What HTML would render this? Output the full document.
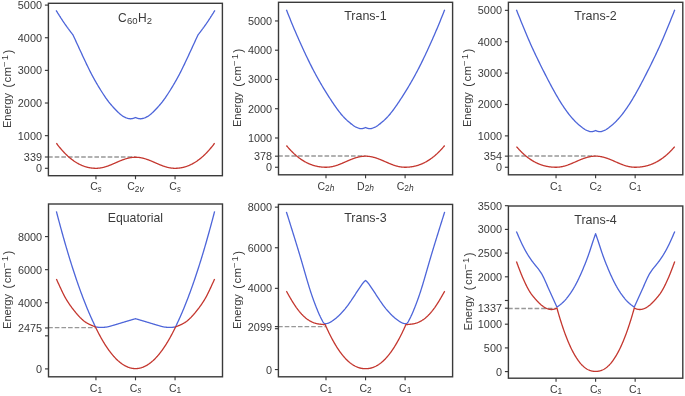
<!DOCTYPE html>
<html><head><meta charset="utf-8"><title>PES</title>
<style>html,body{margin:0;padding:0;background:#fff}svg{display:block}text{font-family:"Liberation Sans",sans-serif;fill:#3a3a3a}</style>
</head><body>
<svg width="685" height="396" viewBox="0 0 685 396">
<rect width="685" height="396" fill="#ffffff"/>
<path d="M48.10,157.00 H135.50" stroke="#989898" stroke-width="1.45" stroke-dasharray="4.6 2.02" fill="none"/>
<path d="M56.10,10.40 L56.24,10.63 L56.38,10.85 L56.53,11.08 L56.67,11.31 L56.81,11.53 L56.95,11.76 L57.09,11.99 L57.24,12.21 L57.38,12.44 L57.52,12.66 L57.66,12.89 L57.80,13.12 L57.95,13.34 L58.09,13.57 L58.23,13.79 L58.37,14.02 L58.51,14.24 L58.66,14.47 L58.80,14.69 L58.94,14.92 L59.08,15.14 L59.22,15.37 L59.37,15.59 L59.51,15.81 L59.65,16.04 L59.79,16.26 L59.93,16.48 L60.08,16.70 L60.22,16.93 L60.36,17.15 L60.50,17.37 L60.64,17.59 L60.79,17.81 L60.93,18.03 L61.07,18.25 L61.21,18.47 L61.35,18.69 L61.50,18.91 L61.64,19.12 L61.78,19.34 L61.92,19.56 L62.06,19.77 L62.21,19.99 L62.35,20.21 L62.49,20.42 L62.63,20.64 L62.77,20.85 L62.92,21.06 L63.06,21.28 L63.20,21.49 L63.34,21.70 L63.48,21.91 L63.63,22.12 L63.77,22.33 L63.91,22.54 L64.05,22.75 L64.19,22.96 L64.34,23.16 L64.48,23.37 L64.62,23.58 L64.76,23.78 L64.91,23.98 L65.05,24.19 L65.19,24.39 L65.33,24.59 L65.47,24.80 L65.62,25.00 L65.76,25.20 L65.90,25.40 L66.04,25.60 L66.18,25.80 L66.33,25.99 L66.47,26.19 L66.61,26.39 L66.75,26.59 L66.89,26.78 L67.04,26.98 L67.18,27.17 L67.32,27.37 L67.46,27.56 L67.60,27.76 L67.75,27.95 L67.89,28.14 L68.03,28.34 L68.17,28.53 L68.31,28.72 L68.46,28.91 L68.60,29.10 L68.74,29.29 L68.88,29.48 L69.02,29.67 L69.17,29.86 L69.31,30.05 L69.45,30.24 L69.59,30.43 L69.73,30.62 L69.88,30.81 L70.02,30.99 L70.16,31.18 L70.30,31.37 L70.44,31.56 L70.59,31.74 L70.73,31.93 L70.87,32.12 L71.01,32.30 L71.15,32.49 L71.30,32.67 L71.44,32.86 L71.58,33.05 L71.72,33.23 L71.86,33.42 L72.01,33.60 L72.15,33.79 L72.29,33.97 L72.43,34.16 L72.57,34.34 L72.72,34.53 L72.86,34.71 L73.00,34.90 L73.48,35.94 L73.96,36.98 L74.44,38.02 L74.92,39.06 L75.39,40.10 L75.87,41.14 L76.35,42.18 L76.83,43.22 L77.31,44.26 L77.79,45.30 L78.27,46.34 L78.75,47.38 L79.23,48.42 L79.71,49.45 L80.18,50.49 L80.66,51.53 L81.14,52.56 L81.62,53.60 L82.10,54.63 L82.58,55.67 L83.06,56.70 L83.54,57.73 L84.02,58.76 L84.50,59.78 L84.97,60.81 L85.45,61.82 L85.93,62.84 L86.41,63.85 L86.89,64.85 L87.37,65.84 L87.85,66.83 L88.33,67.82 L88.81,68.79 L89.29,69.76 L89.76,70.72 L90.24,71.66 L90.72,72.60 L91.20,73.53 L91.68,74.45 L92.16,75.35 L92.64,76.25 L93.12,77.14 L93.60,78.01 L94.08,78.88 L94.55,79.74 L95.03,80.59 L95.51,81.43 L95.99,82.27 L96.47,83.09 L96.95,83.91 L97.43,84.72 L97.91,85.53 L98.39,86.33 L98.87,87.12 L99.34,87.91 L99.82,88.69 L100.30,89.47 L100.78,90.24 L101.26,91.00 L101.74,91.76 L102.22,92.52 L102.70,93.26 L103.18,94.00 L103.66,94.74 L104.13,95.46 L104.61,96.17 L105.09,96.88 L105.57,97.57 L106.05,98.26 L106.53,98.93 L107.01,99.59 L107.49,100.24 L107.97,100.88 L108.45,101.50 L108.92,102.12 L109.40,102.72 L109.88,103.32 L110.36,103.90 L110.84,104.48 L111.32,105.04 L111.80,105.60 L112.28,106.14 L112.76,106.68 L113.24,107.22 L113.71,107.74 L114.19,108.26 L114.67,108.77 L115.15,109.27 L115.63,109.77 L116.11,110.26 L116.59,110.74 L117.07,111.22 L117.55,111.70 L118.03,112.16 L118.50,112.61 L118.98,113.06 L119.46,113.49 L119.94,113.91 L120.42,114.32 L120.90,114.71 L121.38,115.08 L121.86,115.44 L122.34,115.78 L122.82,116.11 L123.29,116.41 L123.77,116.69 L124.25,116.95 L124.73,117.20 L125.21,117.42 L125.69,117.63 L126.17,117.82 L126.65,117.99 L127.13,118.14 L127.61,118.27 L128.08,118.40 L128.56,118.51 L129.04,118.61 L129.52,118.71 L130.00,118.80 L130.05,118.80 L130.09,118.80 L130.14,118.79 L130.18,118.79 L130.23,118.79 L130.28,118.79 L130.32,118.78 L130.37,118.78 L130.42,118.78 L130.46,118.78 L130.51,118.78 L130.55,118.77 L130.60,118.77 L130.65,118.77 L130.69,118.76 L130.74,118.76 L130.79,118.76 L130.83,118.76 L130.88,118.75 L130.92,118.75 L130.97,118.75 L131.02,118.74 L131.06,118.74 L131.11,118.74 L131.16,118.73 L131.20,118.73 L131.25,118.73 L131.29,118.72 L131.34,118.72 L131.39,118.71 L131.43,118.71 L131.48,118.70 L131.53,118.70 L131.57,118.69 L131.62,118.69 L131.66,118.68 L131.71,118.68 L131.76,118.67 L131.80,118.67 L131.85,118.66 L131.89,118.65 L131.94,118.65 L131.99,118.64 L132.03,118.63 L132.08,118.63 L132.13,118.62 L132.17,118.61 L132.22,118.60 L132.26,118.60 L132.31,118.59 L132.36,118.58 L132.40,118.57 L132.45,118.56 L132.50,118.55 L132.54,118.54 L132.59,118.53 L132.63,118.52 L132.68,118.51 L132.73,118.50 L132.77,118.49 L132.82,118.48 L132.87,118.47 L132.91,118.45 L132.96,118.44 L133.00,118.43 L133.05,118.42 L133.10,118.40 L133.14,118.39 L133.19,118.38 L133.24,118.37 L133.28,118.35 L133.33,118.34 L133.37,118.32 L133.42,118.31 L133.47,118.29 L133.51,118.28 L133.56,118.27 L133.61,118.25 L133.65,118.23 L133.70,118.22 L133.74,118.20 L133.79,118.19 L133.84,118.17 L133.88,118.16 L133.93,118.14 L133.97,118.12 L134.02,118.11 L134.07,118.09 L134.11,118.07 L134.16,118.05 L134.21,118.04 L134.25,118.02 L134.30,118.00 L134.34,117.98 L134.39,117.96 L134.44,117.95 L134.48,117.93 L134.53,117.91 L134.58,117.89 L134.62,117.87 L134.67,117.85 L134.71,117.83 L134.76,117.81 L134.81,117.80 L134.85,117.78 L134.90,117.76 L134.95,117.74 L134.99,117.72 L135.04,117.70 L135.08,117.68 L135.13,117.66 L135.18,117.64 L135.22,117.62 L135.27,117.60 L135.32,117.58 L135.36,117.56 L135.41,117.54 L135.45,117.52 L135.50,117.50 L135.55,117.52 L135.59,117.54 L135.64,117.56 L135.68,117.58 L135.73,117.60 L135.78,117.62 L135.82,117.64 L135.87,117.66 L135.92,117.68 L135.96,117.70 L136.01,117.72 L136.05,117.74 L136.10,117.76 L136.15,117.78 L136.19,117.80 L136.24,117.81 L136.29,117.83 L136.33,117.85 L136.38,117.87 L136.42,117.89 L136.47,117.91 L136.52,117.93 L136.56,117.95 L136.61,117.96 L136.66,117.98 L136.70,118.00 L136.75,118.02 L136.79,118.04 L136.84,118.05 L136.89,118.07 L136.93,118.09 L136.98,118.11 L137.03,118.12 L137.07,118.14 L137.12,118.16 L137.16,118.17 L137.21,118.19 L137.26,118.20 L137.30,118.22 L137.35,118.23 L137.39,118.25 L137.44,118.27 L137.49,118.28 L137.53,118.29 L137.58,118.31 L137.63,118.32 L137.67,118.34 L137.72,118.35 L137.76,118.37 L137.81,118.38 L137.86,118.39 L137.90,118.40 L137.95,118.42 L138.00,118.43 L138.04,118.44 L138.09,118.45 L138.13,118.47 L138.18,118.48 L138.23,118.49 L138.27,118.50 L138.32,118.51 L138.37,118.52 L138.41,118.53 L138.46,118.54 L138.50,118.55 L138.55,118.56 L138.60,118.57 L138.64,118.58 L138.69,118.59 L138.74,118.60 L138.78,118.60 L138.83,118.61 L138.87,118.62 L138.92,118.63 L138.97,118.63 L139.01,118.64 L139.06,118.65 L139.11,118.65 L139.15,118.66 L139.20,118.67 L139.24,118.67 L139.29,118.68 L139.34,118.68 L139.38,118.69 L139.43,118.69 L139.47,118.70 L139.52,118.70 L139.57,118.71 L139.61,118.71 L139.66,118.72 L139.71,118.72 L139.75,118.73 L139.80,118.73 L139.84,118.73 L139.89,118.74 L139.94,118.74 L139.98,118.74 L140.03,118.75 L140.08,118.75 L140.12,118.75 L140.17,118.76 L140.21,118.76 L140.26,118.76 L140.31,118.76 L140.35,118.77 L140.40,118.77 L140.45,118.77 L140.49,118.78 L140.54,118.78 L140.58,118.78 L140.63,118.78 L140.68,118.78 L140.72,118.79 L140.77,118.79 L140.82,118.79 L140.86,118.79 L140.91,118.80 L140.95,118.80 L141.00,118.80 L141.48,118.71 L141.96,118.61 L142.44,118.51 L142.92,118.40 L143.39,118.27 L143.87,118.14 L144.35,117.99 L144.83,117.82 L145.31,117.63 L145.79,117.42 L146.27,117.20 L146.75,116.95 L147.23,116.69 L147.71,116.41 L148.18,116.11 L148.66,115.78 L149.14,115.44 L149.62,115.08 L150.10,114.71 L150.58,114.32 L151.06,113.91 L151.54,113.49 L152.02,113.06 L152.50,112.61 L152.97,112.16 L153.45,111.70 L153.93,111.22 L154.41,110.74 L154.89,110.26 L155.37,109.77 L155.85,109.27 L156.33,108.77 L156.81,108.26 L157.29,107.74 L157.76,107.22 L158.24,106.68 L158.72,106.14 L159.20,105.60 L159.68,105.04 L160.16,104.48 L160.64,103.90 L161.12,103.32 L161.60,102.72 L162.08,102.12 L162.55,101.50 L163.03,100.88 L163.51,100.24 L163.99,99.59 L164.47,98.93 L164.95,98.26 L165.43,97.57 L165.91,96.88 L166.39,96.17 L166.87,95.46 L167.34,94.74 L167.82,94.00 L168.30,93.26 L168.78,92.52 L169.26,91.76 L169.74,91.00 L170.22,90.24 L170.70,89.47 L171.18,88.69 L171.66,87.91 L172.13,87.12 L172.61,86.33 L173.09,85.53 L173.57,84.72 L174.05,83.91 L174.53,83.09 L175.01,82.27 L175.49,81.43 L175.97,80.59 L176.45,79.74 L176.92,78.88 L177.40,78.01 L177.88,77.14 L178.36,76.25 L178.84,75.35 L179.32,74.45 L179.80,73.53 L180.28,72.60 L180.76,71.66 L181.24,70.72 L181.71,69.76 L182.19,68.79 L182.67,67.82 L183.15,66.83 L183.63,65.84 L184.11,64.85 L184.59,63.85 L185.07,62.84 L185.55,61.82 L186.03,60.81 L186.50,59.78 L186.98,58.76 L187.46,57.73 L187.94,56.70 L188.42,55.67 L188.90,54.63 L189.38,53.60 L189.86,52.56 L190.34,51.53 L190.82,50.49 L191.29,49.45 L191.77,48.42 L192.25,47.38 L192.73,46.34 L193.21,45.30 L193.69,44.26 L194.17,43.22 L194.65,42.18 L195.13,41.14 L195.61,40.10 L196.08,39.06 L196.56,38.02 L197.04,36.98 L197.52,35.94 L198.00,34.90 L198.14,34.71 L198.28,34.53 L198.43,34.34 L198.57,34.16 L198.71,33.97 L198.85,33.79 L198.99,33.60 L199.14,33.42 L199.28,33.23 L199.42,33.05 L199.56,32.86 L199.70,32.67 L199.85,32.49 L199.99,32.30 L200.13,32.12 L200.27,31.93 L200.41,31.74 L200.56,31.56 L200.70,31.37 L200.84,31.18 L200.98,30.99 L201.12,30.81 L201.27,30.62 L201.41,30.43 L201.55,30.24 L201.69,30.05 L201.83,29.86 L201.98,29.67 L202.12,29.48 L202.26,29.29 L202.40,29.10 L202.54,28.91 L202.69,28.72 L202.83,28.53 L202.97,28.34 L203.11,28.14 L203.25,27.95 L203.40,27.76 L203.54,27.56 L203.68,27.37 L203.82,27.17 L203.96,26.98 L204.11,26.78 L204.25,26.59 L204.39,26.39 L204.53,26.19 L204.67,25.99 L204.82,25.80 L204.96,25.60 L205.10,25.40 L205.24,25.20 L205.38,25.00 L205.53,24.80 L205.67,24.59 L205.81,24.39 L205.95,24.19 L206.09,23.98 L206.24,23.78 L206.38,23.58 L206.52,23.37 L206.66,23.16 L206.81,22.96 L206.95,22.75 L207.09,22.54 L207.23,22.33 L207.37,22.12 L207.52,21.91 L207.66,21.70 L207.80,21.49 L207.94,21.28 L208.08,21.06 L208.23,20.85 L208.37,20.64 L208.51,20.42 L208.65,20.21 L208.79,19.99 L208.94,19.77 L209.08,19.56 L209.22,19.34 L209.36,19.12 L209.50,18.91 L209.65,18.69 L209.79,18.47 L209.93,18.25 L210.07,18.03 L210.21,17.81 L210.36,17.59 L210.50,17.37 L210.64,17.15 L210.78,16.93 L210.92,16.70 L211.07,16.48 L211.21,16.26 L211.35,16.04 L211.49,15.81 L211.63,15.59 L211.78,15.37 L211.92,15.14 L212.06,14.92 L212.20,14.69 L212.34,14.47 L212.49,14.24 L212.63,14.02 L212.77,13.79 L212.91,13.57 L213.05,13.34 L213.20,13.12 L213.34,12.89 L213.48,12.66 L213.62,12.44 L213.76,12.21 L213.91,11.99 L214.05,11.76 L214.19,11.53 L214.33,11.31 L214.47,11.08 L214.62,10.85 L214.76,10.63 L214.90,10.40" fill="none" stroke="#4d65d9" stroke-width="1.3" stroke-linejoin="round" stroke-linecap="butt"/>
<path d="M56.38,143.20 L56.78,143.73 L57.18,144.26 L57.57,144.78 L57.97,145.30 L58.37,145.80 L58.77,146.31 L59.16,146.80 L59.56,147.29 L59.96,147.77 L60.36,148.25 L60.75,148.72 L61.15,149.19 L61.55,149.65 L61.95,150.10 L62.34,150.55 L62.74,150.99 L63.14,151.42 L63.54,151.85 L63.93,152.27 L64.33,152.69 L64.73,153.10 L65.13,153.50 L65.52,153.90 L65.92,154.29 L66.32,154.68 L66.72,155.06 L67.11,155.43 L67.51,155.80 L67.91,156.17 L68.31,156.52 L68.71,156.88 L69.10,157.22 L69.50,157.56 L69.90,157.90 L70.30,158.23 L70.69,158.55 L71.09,158.87 L71.49,159.18 L71.89,159.48 L72.28,159.78 L72.68,160.08 L73.08,160.37 L73.48,160.65 L73.87,160.93 L74.27,161.20 L74.67,161.47 L75.07,161.73 L75.46,161.99 L75.86,162.24 L76.26,162.49 L76.66,162.73 L77.05,162.96 L77.45,163.19 L77.85,163.41 L78.25,163.63 L78.64,163.85 L79.04,164.05 L79.44,164.26 L79.84,164.46 L80.24,164.65 L80.63,164.84 L81.03,165.02 L81.43,165.19 L81.83,165.37 L82.22,165.53 L82.62,165.70 L83.02,165.85 L83.42,166.00 L83.81,166.15 L84.21,166.29 L84.61,166.43 L85.01,166.56 L85.40,166.69 L85.80,166.81 L86.20,166.92 L86.60,167.04 L86.99,167.14 L87.39,167.25 L87.79,167.34 L88.19,167.43 L88.58,167.52 L88.98,167.61 L89.38,167.68 L89.78,167.76 L90.17,167.82 L90.57,167.89 L90.97,167.95 L91.37,168.00 L91.77,168.05 L92.16,168.10 L92.56,168.14 L92.96,168.17 L93.36,168.21 L93.75,168.23 L94.15,168.25 L94.55,168.27 L94.95,168.29 L95.34,168.30 L95.74,168.30 L96.14,168.30 L96.54,168.29 L96.93,168.28 L97.33,168.27 L97.73,168.24 L98.13,168.22 L98.52,168.18 L98.92,168.15 L99.32,168.10 L99.72,168.05 L100.11,168.00 L100.51,167.94 L100.91,167.87 L101.31,167.80 L101.71,167.73 L102.10,167.65 L102.50,167.57 L102.90,167.48 L103.30,167.38 L103.69,167.28 L104.09,167.18 L104.49,167.07 L104.89,166.96 L105.28,166.85 L105.68,166.73 L106.08,166.60 L106.48,166.47 L106.87,166.34 L107.27,166.21 L107.67,166.07 L108.07,165.93 L108.46,165.78 L108.86,165.63 L109.26,165.48 L109.66,165.33 L110.05,165.17 L110.45,165.02 L110.85,164.85 L111.25,164.69 L111.64,164.53 L112.04,164.36 L112.44,164.19 L112.84,164.02 L113.24,163.85 L113.63,163.68 L114.03,163.51 L114.43,163.33 L114.83,163.16 L115.22,162.99 L115.62,162.81 L116.02,162.64 L116.42,162.46 L116.81,162.29 L117.21,162.11 L117.61,161.94 L118.01,161.77 L118.40,161.60 L118.80,161.43 L119.20,161.26 L119.60,161.09 L119.99,160.93 L120.39,160.76 L120.79,160.60 L121.19,160.44 L121.58,160.28 L121.98,160.13 L122.38,159.98 L122.78,159.83 L123.17,159.68 L123.57,159.54 L123.97,159.40 L124.37,159.26 L124.77,159.13 L125.16,159.00 L125.56,158.87 L125.96,158.75 L126.36,158.63 L126.75,158.52 L127.15,158.41 L127.55,158.30 L127.95,158.20 L128.34,158.10 L128.74,158.01 L129.14,157.93 L129.54,157.84 L129.93,157.77 L130.33,157.69 L130.73,157.63 L131.13,157.57 L131.52,157.51 L131.92,157.46 L132.32,157.41 L132.72,157.37 L133.11,157.33 L133.51,157.30 L133.91,157.28 L134.31,157.26 L134.70,157.25 L135.10,157.24 L135.50,157.24 L135.90,157.24 L136.30,157.25 L136.69,157.26 L137.09,157.28 L137.49,157.30 L137.89,157.33 L138.28,157.37 L138.68,157.41 L139.08,157.46 L139.48,157.51 L139.87,157.57 L140.27,157.63 L140.67,157.69 L141.07,157.77 L141.46,157.84 L141.86,157.93 L142.26,158.01 L142.66,158.10 L143.05,158.20 L143.45,158.30 L143.85,158.41 L144.25,158.52 L144.64,158.63 L145.04,158.75 L145.44,158.87 L145.84,159.00 L146.23,159.13 L146.63,159.26 L147.03,159.40 L147.43,159.54 L147.83,159.68 L148.22,159.83 L148.62,159.98 L149.02,160.13 L149.42,160.28 L149.81,160.44 L150.21,160.60 L150.61,160.76 L151.01,160.93 L151.40,161.09 L151.80,161.26 L152.20,161.43 L152.60,161.60 L152.99,161.77 L153.39,161.94 L153.79,162.11 L154.19,162.29 L154.58,162.46 L154.98,162.64 L155.38,162.81 L155.78,162.99 L156.17,163.16 L156.57,163.33 L156.97,163.51 L157.37,163.68 L157.76,163.85 L158.16,164.02 L158.56,164.19 L158.96,164.36 L159.36,164.53 L159.75,164.69 L160.15,164.85 L160.55,165.02 L160.95,165.17 L161.34,165.33 L161.74,165.48 L162.14,165.63 L162.54,165.78 L162.93,165.93 L163.33,166.07 L163.73,166.21 L164.13,166.34 L164.52,166.47 L164.92,166.60 L165.32,166.73 L165.72,166.85 L166.11,166.96 L166.51,167.07 L166.91,167.18 L167.31,167.28 L167.70,167.38 L168.10,167.48 L168.50,167.57 L168.90,167.65 L169.29,167.73 L169.69,167.80 L170.09,167.87 L170.49,167.94 L170.89,168.00 L171.28,168.05 L171.68,168.10 L172.08,168.15 L172.48,168.18 L172.87,168.22 L173.27,168.24 L173.67,168.27 L174.07,168.28 L174.46,168.29 L174.86,168.30 L175.26,168.30 L175.66,168.30 L176.05,168.29 L176.45,168.27 L176.85,168.25 L177.25,168.23 L177.64,168.21 L178.04,168.17 L178.44,168.14 L178.84,168.10 L179.23,168.05 L179.63,168.00 L180.03,167.95 L180.43,167.89 L180.83,167.82 L181.22,167.76 L181.62,167.68 L182.02,167.61 L182.42,167.52 L182.81,167.43 L183.21,167.34 L183.61,167.25 L184.01,167.14 L184.40,167.04 L184.80,166.92 L185.20,166.81 L185.60,166.69 L185.99,166.56 L186.39,166.43 L186.79,166.29 L187.19,166.15 L187.58,166.00 L187.98,165.85 L188.38,165.70 L188.78,165.53 L189.17,165.37 L189.57,165.19 L189.97,165.02 L190.37,164.84 L190.76,164.65 L191.16,164.46 L191.56,164.26 L191.96,164.05 L192.36,163.85 L192.75,163.63 L193.15,163.41 L193.55,163.19 L193.95,162.96 L194.34,162.73 L194.74,162.49 L195.14,162.24 L195.54,161.99 L195.93,161.73 L196.33,161.47 L196.73,161.20 L197.13,160.93 L197.52,160.65 L197.92,160.37 L198.32,160.08 L198.72,159.78 L199.11,159.48 L199.51,159.18 L199.91,158.87 L200.31,158.55 L200.70,158.23 L201.10,157.90 L201.50,157.56 L201.90,157.22 L202.29,156.88 L202.69,156.52 L203.09,156.17 L203.49,155.80 L203.89,155.43 L204.28,155.06 L204.68,154.68 L205.08,154.29 L205.48,153.90 L205.87,153.50 L206.27,153.10 L206.67,152.69 L207.07,152.27 L207.46,151.85 L207.86,151.42 L208.26,150.99 L208.66,150.55 L209.05,150.10 L209.45,149.65 L209.85,149.19 L210.25,148.72 L210.64,148.25 L211.04,147.77 L211.44,147.29 L211.84,146.80 L212.23,146.31 L212.63,145.80 L213.03,145.30 L213.43,144.78 L213.82,144.26 L214.22,143.73 L214.62,143.20" fill="none" stroke="#c4372f" stroke-width="1.3" stroke-linejoin="round" stroke-linecap="butt"/>
<rect x="48.40" y="3.30" width="174.00" height="172.40" fill="none" stroke="#3a3a3a" stroke-width="1.4"/>
<path d="M44.90,5.10 H48.40" stroke="#3a3a3a" stroke-width="1.15"/>
<path d="M44.90,37.74 H48.40" stroke="#3a3a3a" stroke-width="1.15"/>
<path d="M44.90,70.38 H48.40" stroke="#3a3a3a" stroke-width="1.15"/>
<path d="M44.90,103.02 H48.40" stroke="#3a3a3a" stroke-width="1.15"/>
<path d="M44.90,135.66 H48.40" stroke="#3a3a3a" stroke-width="1.15"/>
<path d="M44.90,157.00 H48.40" stroke="#3a3a3a" stroke-width="1.15"/>
<path d="M44.90,168.30 H48.40" stroke="#3a3a3a" stroke-width="1.15"/>
<path d="M95.94,175.70 V179.20" stroke="#3a3a3a" stroke-width="1.15"/>
<path d="M135.50,175.70 V179.20" stroke="#3a3a3a" stroke-width="1.15"/>
<path d="M175.06,175.70 V179.20" stroke="#3a3a3a" stroke-width="1.15"/>
<path d="M278.20,156.00 H365.55" stroke="#989898" stroke-width="1.45" stroke-dasharray="4.6 2.02" fill="none"/>
<path d="M286.40,9.80 L287.02,11.36 L287.65,12.92 L288.27,14.47 L288.89,16.03 L289.51,17.57 L290.14,19.11 L290.76,20.64 L291.38,22.17 L292.00,23.68 L292.63,25.18 L293.25,26.67 L293.87,28.15 L294.49,29.63 L295.12,31.09 L295.74,32.54 L296.36,33.98 L296.99,35.42 L297.61,36.84 L298.23,38.26 L298.85,39.67 L299.48,41.07 L300.10,42.46 L300.72,43.85 L301.34,45.23 L301.97,46.60 L302.59,47.96 L303.21,49.32 L303.84,50.67 L304.46,52.01 L305.08,53.34 L305.70,54.67 L306.33,55.98 L306.95,57.29 L307.57,58.58 L308.19,59.87 L308.82,61.15 L309.44,62.41 L310.06,63.67 L310.68,64.91 L311.31,66.15 L311.93,67.37 L312.55,68.58 L313.18,69.78 L313.80,70.97 L314.42,72.15 L315.04,73.31 L315.67,74.47 L316.29,75.62 L316.91,76.75 L317.53,77.88 L318.16,78.99 L318.78,80.10 L319.40,81.19 L320.03,82.28 L320.65,83.36 L321.27,84.42 L321.89,85.48 L322.52,86.53 L323.14,87.57 L323.76,88.61 L324.38,89.63 L325.01,90.65 L325.63,91.66 L326.25,92.66 L326.87,93.65 L327.50,94.63 L328.12,95.61 L328.74,96.58 L329.37,97.55 L329.99,98.50 L330.61,99.45 L331.23,100.40 L331.86,101.34 L332.48,102.27 L333.10,103.19 L333.72,104.11 L334.35,105.02 L334.97,105.93 L335.59,106.82 L336.22,107.70 L336.84,108.57 L337.46,109.42 L338.08,110.27 L338.71,111.09 L339.33,111.90 L339.95,112.69 L340.57,113.47 L341.20,114.22 L341.82,114.96 L342.44,115.67 L343.06,116.36 L343.69,117.03 L344.31,117.69 L344.93,118.33 L345.56,118.94 L346.18,119.55 L346.80,120.13 L347.42,120.71 L348.05,121.26 L348.67,121.81 L349.29,122.34 L349.91,122.86 L350.54,123.37 L351.16,123.87 L351.78,124.35 L352.41,124.82 L353.03,125.28 L353.65,125.71 L354.27,126.12 L354.90,126.50 L355.52,126.85 L356.14,127.18 L356.76,127.46 L357.39,127.72 L358.01,127.95 L358.63,128.16 L359.25,128.35 L359.88,128.53 L360.50,128.70 L360.54,128.70 L360.58,128.70 L360.63,128.69 L360.67,128.69 L360.71,128.69 L360.75,128.69 L360.80,128.69 L360.84,128.69 L360.88,128.68 L360.92,128.68 L360.97,128.68 L361.01,128.68 L361.05,128.67 L361.09,128.67 L361.14,128.67 L361.18,128.67 L361.22,128.67 L361.26,128.66 L361.31,128.66 L361.35,128.66 L361.39,128.66 L361.43,128.65 L361.48,128.65 L361.52,128.65 L361.56,128.64 L361.60,128.64 L361.65,128.64 L361.69,128.63 L361.73,128.63 L361.77,128.63 L361.82,128.62 L361.86,128.62 L361.90,128.61 L361.94,128.61 L361.99,128.60 L362.03,128.60 L362.07,128.59 L362.11,128.59 L362.16,128.58 L362.20,128.58 L362.24,128.57 L362.28,128.57 L362.32,128.56 L362.37,128.56 L362.41,128.55 L362.45,128.54 L362.49,128.54 L362.54,128.53 L362.58,128.52 L362.62,128.51 L362.66,128.51 L362.71,128.50 L362.75,128.49 L362.79,128.48 L362.83,128.47 L362.88,128.46 L362.92,128.46 L362.96,128.45 L363.00,128.44 L363.05,128.43 L363.09,128.42 L363.13,128.41 L363.17,128.40 L363.22,128.39 L363.26,128.37 L363.30,128.36 L363.34,128.35 L363.39,128.34 L363.43,128.33 L363.47,128.32 L363.51,128.30 L363.56,128.29 L363.60,128.28 L363.64,128.27 L363.68,128.25 L363.73,128.24 L363.77,128.23 L363.81,128.21 L363.85,128.20 L363.89,128.18 L363.94,128.17 L363.98,128.16 L364.02,128.14 L364.06,128.13 L364.11,128.11 L364.15,128.10 L364.19,128.08 L364.23,128.06 L364.28,128.05 L364.32,128.03 L364.36,128.01 L364.40,128.00 L364.45,127.98 L364.49,127.96 L364.53,127.95 L364.57,127.93 L364.62,127.91 L364.66,127.89 L364.70,127.88 L364.74,127.86 L364.79,127.84 L364.83,127.82 L364.87,127.80 L364.91,127.79 L364.96,127.77 L365.00,127.75 L365.04,127.73 L365.08,127.71 L365.13,127.69 L365.17,127.67 L365.21,127.65 L365.25,127.63 L365.30,127.62 L365.34,127.60 L365.38,127.58 L365.42,127.56 L365.47,127.54 L365.51,127.52 L365.55,127.50 L365.59,127.52 L365.63,127.54 L365.68,127.56 L365.72,127.58 L365.76,127.60 L365.80,127.62 L365.85,127.63 L365.89,127.65 L365.93,127.67 L365.97,127.69 L366.02,127.71 L366.06,127.73 L366.10,127.75 L366.14,127.77 L366.19,127.79 L366.23,127.80 L366.27,127.82 L366.31,127.84 L366.36,127.86 L366.40,127.88 L366.44,127.89 L366.48,127.91 L366.53,127.93 L366.57,127.95 L366.61,127.96 L366.65,127.98 L366.70,128.00 L366.74,128.01 L366.78,128.03 L366.82,128.05 L366.87,128.06 L366.91,128.08 L366.95,128.10 L366.99,128.11 L367.04,128.13 L367.08,128.14 L367.12,128.16 L367.16,128.17 L367.21,128.18 L367.25,128.20 L367.29,128.21 L367.33,128.23 L367.37,128.24 L367.42,128.25 L367.46,128.27 L367.50,128.28 L367.54,128.29 L367.59,128.30 L367.63,128.32 L367.67,128.33 L367.71,128.34 L367.76,128.35 L367.80,128.36 L367.84,128.37 L367.88,128.39 L367.93,128.40 L367.97,128.41 L368.01,128.42 L368.05,128.43 L368.10,128.44 L368.14,128.45 L368.18,128.46 L368.22,128.46 L368.27,128.47 L368.31,128.48 L368.35,128.49 L368.39,128.50 L368.44,128.51 L368.48,128.51 L368.52,128.52 L368.56,128.53 L368.61,128.54 L368.65,128.54 L368.69,128.55 L368.73,128.56 L368.78,128.56 L368.82,128.57 L368.86,128.57 L368.90,128.58 L368.94,128.58 L368.99,128.59 L369.03,128.59 L369.07,128.60 L369.11,128.60 L369.16,128.61 L369.20,128.61 L369.24,128.62 L369.28,128.62 L369.33,128.63 L369.37,128.63 L369.41,128.63 L369.45,128.64 L369.50,128.64 L369.54,128.64 L369.58,128.65 L369.62,128.65 L369.67,128.65 L369.71,128.66 L369.75,128.66 L369.79,128.66 L369.84,128.66 L369.88,128.67 L369.92,128.67 L369.96,128.67 L370.01,128.67 L370.05,128.67 L370.09,128.68 L370.13,128.68 L370.18,128.68 L370.22,128.68 L370.26,128.69 L370.30,128.69 L370.35,128.69 L370.39,128.69 L370.43,128.69 L370.47,128.69 L370.52,128.70 L370.56,128.70 L370.60,128.70 L371.22,128.53 L371.85,128.35 L372.47,128.16 L373.09,127.95 L373.71,127.72 L374.34,127.46 L374.96,127.18 L375.58,126.85 L376.20,126.50 L376.83,126.12 L377.45,125.71 L378.07,125.28 L378.69,124.82 L379.32,124.35 L379.94,123.87 L380.56,123.37 L381.19,122.86 L381.81,122.34 L382.43,121.81 L383.05,121.26 L383.68,120.71 L384.30,120.13 L384.92,119.55 L385.54,118.94 L386.17,118.33 L386.79,117.69 L387.41,117.03 L388.04,116.36 L388.66,115.67 L389.28,114.96 L389.90,114.22 L390.53,113.47 L391.15,112.69 L391.77,111.90 L392.39,111.09 L393.02,110.27 L393.64,109.42 L394.26,108.57 L394.88,107.70 L395.51,106.82 L396.13,105.93 L396.75,105.02 L397.38,104.11 L398.00,103.19 L398.62,102.27 L399.24,101.34 L399.87,100.40 L400.49,99.45 L401.11,98.50 L401.73,97.55 L402.36,96.58 L402.98,95.61 L403.60,94.63 L404.23,93.65 L404.85,92.66 L405.47,91.66 L406.09,90.65 L406.72,89.63 L407.34,88.61 L407.96,87.57 L408.58,86.53 L409.21,85.48 L409.83,84.42 L410.45,83.36 L411.07,82.28 L411.70,81.19 L412.32,80.10 L412.94,78.99 L413.57,77.88 L414.19,76.75 L414.81,75.62 L415.43,74.47 L416.06,73.31 L416.68,72.15 L417.30,70.97 L417.92,69.78 L418.55,68.58 L419.17,67.37 L419.79,66.15 L420.42,64.91 L421.04,63.67 L421.66,62.41 L422.28,61.15 L422.91,59.87 L423.53,58.58 L424.15,57.29 L424.77,55.98 L425.40,54.67 L426.02,53.34 L426.64,52.01 L427.26,50.67 L427.89,49.32 L428.51,47.96 L429.13,46.60 L429.76,45.23 L430.38,43.85 L431.00,42.46 L431.62,41.07 L432.25,39.67 L432.87,38.26 L433.49,36.84 L434.11,35.42 L434.74,33.98 L435.36,32.54 L435.98,31.09 L436.61,29.63 L437.23,28.15 L437.85,26.67 L438.47,25.18 L439.10,23.68 L439.72,22.17 L440.34,20.64 L440.96,19.11 L441.59,17.57 L442.21,16.03 L442.83,14.47 L443.45,12.92 L444.08,11.36 L444.70,9.80" fill="none" stroke="#4d65d9" stroke-width="1.3" stroke-linejoin="round" stroke-linecap="butt"/>
<path d="M286.43,145.51 L286.83,145.99 L287.23,146.47 L287.62,146.94 L288.02,147.40 L288.42,147.86 L288.82,148.31 L289.21,148.75 L289.61,149.19 L290.01,149.62 L290.41,150.05 L290.80,150.47 L291.20,150.88 L291.60,151.29 L292.00,151.69 L292.39,152.09 L292.79,152.48 L293.19,152.86 L293.59,153.24 L293.98,153.62 L294.38,153.98 L294.78,154.34 L295.18,154.70 L295.57,155.05 L295.97,155.40 L296.37,155.73 L296.77,156.07 L297.16,156.39 L297.56,156.72 L297.96,157.03 L298.36,157.34 L298.76,157.65 L299.15,157.95 L299.55,158.25 L299.95,158.54 L300.35,158.82 L300.74,159.10 L301.14,159.37 L301.54,159.64 L301.94,159.90 L302.33,160.16 L302.73,160.41 L303.13,160.66 L303.53,160.90 L303.92,161.14 L304.32,161.37 L304.72,161.60 L305.12,161.82 L305.51,162.04 L305.91,162.25 L306.31,162.46 L306.71,162.67 L307.10,162.86 L307.50,163.06 L307.90,163.25 L308.30,163.43 L308.69,163.61 L309.09,163.78 L309.49,163.95 L309.89,164.12 L310.29,164.28 L310.68,164.43 L311.08,164.58 L311.48,164.73 L311.88,164.87 L312.27,165.01 L312.67,165.14 L313.07,165.27 L313.47,165.40 L313.86,165.52 L314.26,165.63 L314.66,165.75 L315.06,165.85 L315.45,165.96 L315.85,166.06 L316.25,166.15 L316.65,166.24 L317.04,166.33 L317.44,166.41 L317.84,166.49 L318.24,166.56 L318.63,166.63 L319.03,166.70 L319.43,166.76 L319.83,166.82 L320.22,166.87 L320.62,166.93 L321.02,166.97 L321.42,167.02 L321.82,167.06 L322.21,167.09 L322.61,167.12 L323.01,167.15 L323.41,167.18 L323.80,167.20 L324.20,167.21 L324.60,167.23 L325.00,167.24 L325.39,167.25 L325.79,167.25 L326.19,167.25 L326.59,167.24 L326.98,167.23 L327.38,167.22 L327.78,167.19 L328.18,167.17 L328.57,167.13 L328.97,167.10 L329.37,167.05 L329.77,167.00 L330.16,166.95 L330.56,166.89 L330.96,166.82 L331.36,166.76 L331.76,166.68 L332.15,166.60 L332.55,166.52 L332.95,166.43 L333.35,166.33 L333.74,166.23 L334.14,166.13 L334.54,166.02 L334.94,165.91 L335.33,165.80 L335.73,165.68 L336.13,165.55 L336.53,165.42 L336.92,165.29 L337.32,165.16 L337.72,165.02 L338.12,164.88 L338.51,164.73 L338.91,164.59 L339.31,164.43 L339.71,164.28 L340.10,164.12 L340.50,163.97 L340.90,163.81 L341.30,163.64 L341.69,163.48 L342.09,163.31 L342.49,163.14 L342.89,162.97 L343.29,162.80 L343.68,162.63 L344.08,162.46 L344.48,162.29 L344.88,162.11 L345.27,161.94 L345.67,161.76 L346.07,161.59 L346.47,161.41 L346.86,161.24 L347.26,161.07 L347.66,160.89 L348.06,160.72 L348.45,160.55 L348.85,160.38 L349.25,160.21 L349.65,160.04 L350.04,159.88 L350.44,159.71 L350.84,159.55 L351.24,159.39 L351.63,159.24 L352.03,159.08 L352.43,158.93 L352.83,158.78 L353.22,158.63 L353.62,158.49 L354.02,158.35 L354.42,158.21 L354.82,158.08 L355.21,157.95 L355.61,157.82 L356.01,157.70 L356.41,157.58 L356.80,157.47 L357.20,157.36 L357.60,157.26 L358.00,157.16 L358.39,157.06 L358.79,156.97 L359.19,156.88 L359.59,156.80 L359.98,156.72 L360.38,156.65 L360.78,156.58 L361.18,156.52 L361.57,156.46 L361.97,156.41 L362.37,156.37 L362.77,156.32 L363.16,156.29 L363.56,156.26 L363.96,156.23 L364.36,156.21 L364.75,156.20 L365.15,156.19 L365.55,156.19 L365.95,156.19 L366.35,156.20 L366.74,156.21 L367.14,156.23 L367.54,156.26 L367.94,156.29 L368.33,156.32 L368.73,156.37 L369.13,156.41 L369.53,156.46 L369.92,156.52 L370.32,156.58 L370.72,156.65 L371.12,156.72 L371.51,156.80 L371.91,156.88 L372.31,156.97 L372.71,157.06 L373.10,157.16 L373.50,157.26 L373.90,157.36 L374.30,157.47 L374.69,157.58 L375.09,157.70 L375.49,157.82 L375.89,157.95 L376.28,158.08 L376.68,158.21 L377.08,158.35 L377.48,158.49 L377.88,158.63 L378.27,158.78 L378.67,158.93 L379.07,159.08 L379.47,159.24 L379.86,159.39 L380.26,159.55 L380.66,159.71 L381.06,159.88 L381.45,160.04 L381.85,160.21 L382.25,160.38 L382.65,160.55 L383.04,160.72 L383.44,160.89 L383.84,161.07 L384.24,161.24 L384.63,161.41 L385.03,161.59 L385.43,161.76 L385.83,161.94 L386.22,162.11 L386.62,162.29 L387.02,162.46 L387.42,162.63 L387.81,162.80 L388.21,162.97 L388.61,163.14 L389.01,163.31 L389.41,163.48 L389.80,163.64 L390.20,163.81 L390.60,163.97 L391.00,164.12 L391.39,164.28 L391.79,164.43 L392.19,164.59 L392.59,164.73 L392.98,164.88 L393.38,165.02 L393.78,165.16 L394.18,165.29 L394.57,165.42 L394.97,165.55 L395.37,165.68 L395.77,165.80 L396.16,165.91 L396.56,166.02 L396.96,166.13 L397.36,166.23 L397.75,166.33 L398.15,166.43 L398.55,166.52 L398.95,166.60 L399.34,166.68 L399.74,166.76 L400.14,166.82 L400.54,166.89 L400.94,166.95 L401.33,167.00 L401.73,167.05 L402.13,167.10 L402.53,167.13 L402.92,167.17 L403.32,167.19 L403.72,167.22 L404.12,167.23 L404.51,167.24 L404.91,167.25 L405.31,167.25 L405.71,167.25 L406.10,167.24 L406.50,167.23 L406.90,167.21 L407.30,167.20 L407.69,167.18 L408.09,167.15 L408.49,167.12 L408.89,167.09 L409.28,167.06 L409.68,167.02 L410.08,166.97 L410.48,166.93 L410.88,166.87 L411.27,166.82 L411.67,166.76 L412.07,166.70 L412.47,166.63 L412.86,166.56 L413.26,166.49 L413.66,166.41 L414.06,166.33 L414.45,166.24 L414.85,166.15 L415.25,166.06 L415.65,165.96 L416.04,165.85 L416.44,165.75 L416.84,165.63 L417.24,165.52 L417.63,165.40 L418.03,165.27 L418.43,165.14 L418.83,165.01 L419.22,164.87 L419.62,164.73 L420.02,164.58 L420.42,164.43 L420.81,164.28 L421.21,164.12 L421.61,163.95 L422.01,163.78 L422.41,163.61 L422.80,163.43 L423.20,163.25 L423.60,163.06 L424.00,162.86 L424.39,162.67 L424.79,162.46 L425.19,162.25 L425.59,162.04 L425.98,161.82 L426.38,161.60 L426.78,161.37 L427.18,161.14 L427.57,160.90 L427.97,160.66 L428.37,160.41 L428.77,160.16 L429.16,159.90 L429.56,159.64 L429.96,159.37 L430.36,159.10 L430.75,158.82 L431.15,158.54 L431.55,158.25 L431.95,157.95 L432.34,157.65 L432.74,157.34 L433.14,157.03 L433.54,156.72 L433.94,156.39 L434.33,156.07 L434.73,155.73 L435.13,155.40 L435.53,155.05 L435.92,154.70 L436.32,154.34 L436.72,153.98 L437.12,153.62 L437.51,153.24 L437.91,152.86 L438.31,152.48 L438.71,152.09 L439.10,151.69 L439.50,151.29 L439.90,150.88 L440.30,150.47 L440.69,150.05 L441.09,149.62 L441.49,149.19 L441.89,148.75 L442.28,148.31 L442.68,147.86 L443.08,147.40 L443.48,146.94 L443.87,146.47 L444.27,145.99 L444.67,145.51" fill="none" stroke="#c4372f" stroke-width="1.3" stroke-linejoin="round" stroke-linecap="butt"/>
<rect x="278.50" y="2.30" width="174.10" height="172.50" fill="none" stroke="#3a3a3a" stroke-width="1.4"/>
<path d="M275.00,20.95 H278.50" stroke="#3a3a3a" stroke-width="1.15"/>
<path d="M275.00,50.21 H278.50" stroke="#3a3a3a" stroke-width="1.15"/>
<path d="M275.00,79.47 H278.50" stroke="#3a3a3a" stroke-width="1.15"/>
<path d="M275.00,108.73 H278.50" stroke="#3a3a3a" stroke-width="1.15"/>
<path d="M275.00,137.99 H278.50" stroke="#3a3a3a" stroke-width="1.15"/>
<path d="M275.00,156.19 H278.50" stroke="#3a3a3a" stroke-width="1.15"/>
<path d="M275.00,167.25 H278.50" stroke="#3a3a3a" stroke-width="1.15"/>
<path d="M325.99,174.80 V178.30" stroke="#3a3a3a" stroke-width="1.15"/>
<path d="M365.55,174.80 V178.30" stroke="#3a3a3a" stroke-width="1.15"/>
<path d="M405.11,174.80 V178.30" stroke="#3a3a3a" stroke-width="1.15"/>
<path d="M508.10,156.00 H595.60" stroke="#989898" stroke-width="1.45" stroke-dasharray="4.6 2.02" fill="none"/>
<path d="M516.40,9.80 L517.02,11.35 L517.65,12.90 L518.27,14.46 L518.89,16.01 L519.52,17.55 L520.14,19.10 L520.76,20.64 L521.39,22.18 L522.01,23.71 L522.64,25.24 L523.26,26.77 L523.88,28.28 L524.51,29.80 L525.13,31.30 L525.75,32.79 L526.38,34.28 L527.00,35.76 L527.62,37.23 L528.25,38.68 L528.87,40.13 L529.49,41.56 L530.12,42.98 L530.74,44.39 L531.36,45.79 L531.99,47.17 L532.61,48.53 L533.24,49.89 L533.86,51.23 L534.48,52.57 L535.11,53.89 L535.73,55.20 L536.35,56.51 L536.98,57.80 L537.60,59.09 L538.22,60.37 L538.85,61.64 L539.47,62.91 L540.09,64.17 L540.72,65.43 L541.34,66.68 L541.96,67.93 L542.59,69.17 L543.21,70.42 L543.84,71.65 L544.46,72.89 L545.08,74.12 L545.71,75.34 L546.33,76.56 L546.95,77.77 L547.58,78.98 L548.20,80.18 L548.82,81.38 L549.45,82.57 L550.07,83.75 L550.69,84.92 L551.32,86.08 L551.94,87.24 L552.56,88.39 L553.19,89.52 L553.81,90.65 L554.44,91.77 L555.06,92.88 L555.68,93.98 L556.31,95.06 L556.93,96.14 L557.55,97.20 L558.18,98.26 L558.80,99.30 L559.42,100.32 L560.05,101.34 L560.67,102.34 L561.29,103.33 L561.92,104.30 L562.54,105.26 L563.16,106.21 L563.79,107.14 L564.41,108.06 L565.04,108.96 L565.66,109.85 L566.28,110.72 L566.91,111.57 L567.53,112.41 L568.15,113.24 L568.78,114.05 L569.40,114.84 L570.02,115.61 L570.65,116.37 L571.27,117.11 L571.89,117.84 L572.52,118.55 L573.14,119.24 L573.76,119.91 L574.39,120.57 L575.01,121.22 L575.64,121.84 L576.26,122.46 L576.88,123.05 L577.51,123.64 L578.13,124.20 L578.75,124.76 L579.38,125.30 L580.00,125.82 L580.62,126.34 L581.25,126.84 L581.87,127.32 L582.49,127.79 L583.12,128.24 L583.74,128.67 L584.36,129.07 L584.99,129.45 L585.61,129.80 L586.24,130.12 L586.86,130.41 L587.48,130.67 L588.11,130.90 L588.73,131.12 L589.35,131.32 L589.98,131.51 L590.60,131.70 L590.64,131.70 L590.68,131.70 L590.73,131.69 L590.77,131.69 L590.81,131.69 L590.85,131.69 L590.89,131.69 L590.94,131.68 L590.98,131.68 L591.02,131.68 L591.06,131.68 L591.10,131.68 L591.15,131.67 L591.19,131.67 L591.23,131.67 L591.27,131.67 L591.31,131.66 L591.36,131.66 L591.40,131.66 L591.44,131.66 L591.48,131.65 L591.52,131.65 L591.57,131.65 L591.61,131.65 L591.65,131.64 L591.69,131.64 L591.73,131.64 L591.78,131.63 L591.82,131.63 L591.86,131.62 L591.90,131.62 L591.94,131.62 L591.99,131.61 L592.03,131.61 L592.07,131.60 L592.11,131.60 L592.15,131.59 L592.20,131.59 L592.24,131.59 L592.28,131.58 L592.32,131.57 L592.36,131.57 L592.41,131.56 L592.45,131.56 L592.49,131.55 L592.53,131.54 L592.57,131.54 L592.62,131.53 L592.66,131.52 L592.70,131.52 L592.74,131.51 L592.78,131.50 L592.83,131.49 L592.87,131.49 L592.91,131.48 L592.95,131.47 L592.99,131.46 L593.04,131.45 L593.08,131.44 L593.12,131.43 L593.16,131.42 L593.21,131.41 L593.25,131.40 L593.29,131.39 L593.33,131.38 L593.37,131.37 L593.42,131.36 L593.46,131.35 L593.50,131.34 L593.54,131.33 L593.58,131.32 L593.63,131.30 L593.67,131.29 L593.71,131.28 L593.75,131.27 L593.79,131.25 L593.84,131.24 L593.88,131.23 L593.92,131.21 L593.96,131.20 L594.00,131.19 L594.05,131.17 L594.09,131.16 L594.13,131.14 L594.17,131.13 L594.21,131.11 L594.26,131.10 L594.30,131.08 L594.34,131.06 L594.38,131.05 L594.42,131.03 L594.47,131.01 L594.51,131.00 L594.55,130.98 L594.59,130.96 L594.63,130.94 L594.68,130.93 L594.72,130.91 L594.76,130.89 L594.80,130.87 L594.84,130.85 L594.89,130.83 L594.93,130.82 L594.97,130.80 L595.01,130.78 L595.05,130.76 L595.10,130.74 L595.14,130.72 L595.18,130.70 L595.22,130.68 L595.26,130.66 L595.31,130.64 L595.35,130.62 L595.39,130.60 L595.43,130.58 L595.47,130.56 L595.52,130.54 L595.56,130.52 L595.60,130.50 L595.64,130.52 L595.68,130.54 L595.73,130.56 L595.77,130.58 L595.81,130.60 L595.85,130.62 L595.89,130.64 L595.94,130.66 L595.98,130.68 L596.02,130.70 L596.06,130.72 L596.10,130.74 L596.15,130.76 L596.19,130.78 L596.23,130.80 L596.27,130.82 L596.31,130.83 L596.36,130.85 L596.40,130.87 L596.44,130.89 L596.48,130.91 L596.52,130.93 L596.57,130.94 L596.61,130.96 L596.65,130.98 L596.69,131.00 L596.73,131.01 L596.78,131.03 L596.82,131.05 L596.86,131.06 L596.90,131.08 L596.94,131.10 L596.99,131.11 L597.03,131.13 L597.07,131.14 L597.11,131.16 L597.15,131.17 L597.20,131.19 L597.24,131.20 L597.28,131.21 L597.32,131.23 L597.36,131.24 L597.41,131.25 L597.45,131.27 L597.49,131.28 L597.53,131.29 L597.57,131.30 L597.62,131.32 L597.66,131.33 L597.70,131.34 L597.74,131.35 L597.78,131.36 L597.83,131.37 L597.87,131.38 L597.91,131.39 L597.95,131.40 L597.99,131.41 L598.04,131.42 L598.08,131.43 L598.12,131.44 L598.16,131.45 L598.21,131.46 L598.25,131.47 L598.29,131.48 L598.33,131.49 L598.37,131.49 L598.42,131.50 L598.46,131.51 L598.50,131.52 L598.54,131.52 L598.58,131.53 L598.63,131.54 L598.67,131.54 L598.71,131.55 L598.75,131.56 L598.79,131.56 L598.84,131.57 L598.88,131.57 L598.92,131.58 L598.96,131.59 L599.00,131.59 L599.05,131.59 L599.09,131.60 L599.13,131.60 L599.17,131.61 L599.21,131.61 L599.26,131.62 L599.30,131.62 L599.34,131.62 L599.38,131.63 L599.42,131.63 L599.47,131.64 L599.51,131.64 L599.55,131.64 L599.59,131.65 L599.63,131.65 L599.68,131.65 L599.72,131.65 L599.76,131.66 L599.80,131.66 L599.84,131.66 L599.89,131.66 L599.93,131.67 L599.97,131.67 L600.01,131.67 L600.05,131.67 L600.10,131.68 L600.14,131.68 L600.18,131.68 L600.22,131.68 L600.26,131.68 L600.31,131.69 L600.35,131.69 L600.39,131.69 L600.43,131.69 L600.47,131.69 L600.52,131.70 L600.56,131.70 L600.60,131.70 L601.22,131.51 L601.85,131.32 L602.47,131.12 L603.09,130.90 L603.72,130.67 L604.34,130.41 L604.96,130.12 L605.59,129.80 L606.21,129.45 L606.84,129.07 L607.46,128.67 L608.08,128.24 L608.71,127.79 L609.33,127.32 L609.95,126.84 L610.58,126.34 L611.20,125.82 L611.82,125.30 L612.45,124.76 L613.07,124.20 L613.69,123.64 L614.32,123.05 L614.94,122.46 L615.56,121.84 L616.19,121.22 L616.81,120.57 L617.44,119.91 L618.06,119.24 L618.68,118.55 L619.31,117.84 L619.93,117.11 L620.55,116.37 L621.18,115.61 L621.80,114.84 L622.42,114.05 L623.05,113.24 L623.67,112.41 L624.29,111.57 L624.92,110.72 L625.54,109.85 L626.16,108.96 L626.79,108.06 L627.41,107.14 L628.04,106.21 L628.66,105.26 L629.28,104.30 L629.91,103.33 L630.53,102.34 L631.15,101.34 L631.78,100.32 L632.40,99.30 L633.02,98.26 L633.65,97.20 L634.27,96.14 L634.89,95.06 L635.52,93.98 L636.14,92.88 L636.76,91.77 L637.39,90.65 L638.01,89.52 L638.64,88.39 L639.26,87.24 L639.88,86.08 L640.51,84.92 L641.13,83.75 L641.75,82.57 L642.38,81.38 L643.00,80.18 L643.62,78.98 L644.25,77.77 L644.87,76.56 L645.49,75.34 L646.12,74.12 L646.74,72.89 L647.36,71.65 L647.99,70.42 L648.61,69.17 L649.24,67.93 L649.86,66.68 L650.48,65.43 L651.11,64.17 L651.73,62.91 L652.35,61.64 L652.98,60.37 L653.60,59.09 L654.22,57.80 L654.85,56.51 L655.47,55.20 L656.09,53.89 L656.72,52.57 L657.34,51.23 L657.96,49.89 L658.59,48.53 L659.21,47.17 L659.84,45.79 L660.46,44.39 L661.08,42.98 L661.71,41.56 L662.33,40.13 L662.95,38.68 L663.58,37.23 L664.20,35.76 L664.82,34.28 L665.45,32.79 L666.07,31.30 L666.69,29.80 L667.32,28.28 L667.94,26.77 L668.56,25.24 L669.19,23.71 L669.81,22.18 L670.44,20.64 L671.06,19.10 L671.68,17.55 L672.31,16.01 L672.93,14.46 L673.55,12.90 L674.18,11.35 L674.80,9.80" fill="none" stroke="#4d65d9" stroke-width="1.3" stroke-linejoin="round" stroke-linecap="butt"/>
<path d="M516.48,146.60 L516.88,147.07 L517.28,147.53 L517.67,147.98 L518.07,148.43 L518.47,148.87 L518.87,149.31 L519.26,149.74 L519.66,150.16 L520.06,150.57 L520.46,150.99 L520.85,151.39 L521.25,151.79 L521.65,152.18 L522.05,152.57 L522.44,152.95 L522.84,153.32 L523.24,153.69 L523.64,154.06 L524.03,154.41 L524.43,154.77 L524.83,155.11 L525.23,155.45 L525.62,155.79 L526.02,156.12 L526.42,156.44 L526.82,156.76 L527.21,157.07 L527.61,157.38 L528.01,157.68 L528.41,157.97 L528.81,158.27 L529.20,158.55 L529.60,158.83 L530.00,159.11 L530.40,159.38 L530.79,159.64 L531.19,159.90 L531.59,160.15 L531.99,160.40 L532.38,160.65 L532.78,160.89 L533.18,161.12 L533.58,161.35 L533.97,161.57 L534.37,161.79 L534.77,162.01 L535.17,162.22 L535.56,162.42 L535.96,162.62 L536.36,162.81 L536.76,163.01 L537.15,163.19 L537.55,163.37 L537.95,163.55 L538.35,163.72 L538.74,163.89 L539.14,164.05 L539.54,164.21 L539.94,164.36 L540.34,164.51 L540.73,164.66 L541.13,164.80 L541.53,164.93 L541.93,165.07 L542.32,165.19 L542.72,165.32 L543.12,165.44 L543.52,165.55 L543.91,165.66 L544.31,165.77 L544.71,165.87 L545.11,165.97 L545.50,166.07 L545.90,166.16 L546.30,166.25 L546.70,166.33 L547.09,166.41 L547.49,166.48 L547.89,166.56 L548.29,166.62 L548.68,166.69 L549.08,166.75 L549.48,166.81 L549.88,166.86 L550.27,166.91 L550.67,166.96 L551.07,167.00 L551.47,167.04 L551.87,167.07 L552.26,167.11 L552.66,167.14 L553.06,167.16 L553.46,167.18 L553.85,167.20 L554.25,167.22 L554.65,167.23 L555.05,167.24 L555.44,167.25 L555.84,167.25 L556.24,167.25 L556.64,167.24 L557.03,167.23 L557.43,167.22 L557.83,167.19 L558.23,167.17 L558.62,167.13 L559.02,167.09 L559.42,167.05 L559.82,167.00 L560.21,166.95 L560.61,166.89 L561.01,166.82 L561.41,166.75 L561.81,166.68 L562.20,166.60 L562.60,166.51 L563.00,166.42 L563.40,166.33 L563.79,166.23 L564.19,166.13 L564.59,166.02 L564.99,165.91 L565.38,165.79 L565.78,165.67 L566.18,165.54 L566.58,165.42 L566.97,165.28 L567.37,165.15 L567.77,165.01 L568.17,164.87 L568.56,164.72 L568.96,164.57 L569.36,164.42 L569.76,164.27 L570.15,164.11 L570.55,163.95 L570.95,163.79 L571.35,163.63 L571.74,163.46 L572.14,163.29 L572.54,163.13 L572.94,162.96 L573.34,162.78 L573.73,162.61 L574.13,162.44 L574.53,162.26 L574.93,162.09 L575.32,161.91 L575.72,161.74 L576.12,161.56 L576.52,161.39 L576.91,161.21 L577.31,161.04 L577.71,160.87 L578.11,160.69 L578.50,160.52 L578.90,160.35 L579.30,160.18 L579.70,160.01 L580.09,159.85 L580.49,159.68 L580.89,159.52 L581.29,159.36 L581.68,159.20 L582.08,159.05 L582.48,158.89 L582.88,158.74 L583.27,158.60 L583.67,158.45 L584.07,158.31 L584.47,158.17 L584.87,158.04 L585.26,157.91 L585.66,157.78 L586.06,157.66 L586.46,157.54 L586.85,157.43 L587.25,157.32 L587.65,157.21 L588.05,157.11 L588.44,157.01 L588.84,156.92 L589.24,156.84 L589.64,156.75 L590.03,156.68 L590.43,156.60 L590.83,156.54 L591.23,156.47 L591.62,156.42 L592.02,156.36 L592.42,156.32 L592.82,156.28 L593.21,156.24 L593.61,156.21 L594.01,156.19 L594.41,156.17 L594.80,156.15 L595.20,156.14 L595.60,156.14 L596.00,156.14 L596.40,156.15 L596.79,156.17 L597.19,156.19 L597.59,156.21 L597.99,156.24 L598.38,156.28 L598.78,156.32 L599.18,156.36 L599.58,156.42 L599.97,156.47 L600.37,156.54 L600.77,156.60 L601.17,156.68 L601.56,156.75 L601.96,156.84 L602.36,156.92 L602.76,157.01 L603.15,157.11 L603.55,157.21 L603.95,157.32 L604.35,157.43 L604.74,157.54 L605.14,157.66 L605.54,157.78 L605.94,157.91 L606.33,158.04 L606.73,158.17 L607.13,158.31 L607.53,158.45 L607.93,158.60 L608.32,158.74 L608.72,158.89 L609.12,159.05 L609.52,159.20 L609.91,159.36 L610.31,159.52 L610.71,159.68 L611.11,159.85 L611.50,160.01 L611.90,160.18 L612.30,160.35 L612.70,160.52 L613.09,160.69 L613.49,160.87 L613.89,161.04 L614.29,161.21 L614.68,161.39 L615.08,161.56 L615.48,161.74 L615.88,161.91 L616.27,162.09 L616.67,162.26 L617.07,162.44 L617.47,162.61 L617.86,162.78 L618.26,162.96 L618.66,163.13 L619.06,163.29 L619.46,163.46 L619.85,163.63 L620.25,163.79 L620.65,163.95 L621.05,164.11 L621.44,164.27 L621.84,164.42 L622.24,164.57 L622.64,164.72 L623.03,164.87 L623.43,165.01 L623.83,165.15 L624.23,165.28 L624.62,165.42 L625.02,165.54 L625.42,165.67 L625.82,165.79 L626.21,165.91 L626.61,166.02 L627.01,166.13 L627.41,166.23 L627.80,166.33 L628.20,166.42 L628.60,166.51 L629.00,166.60 L629.39,166.68 L629.79,166.75 L630.19,166.82 L630.59,166.89 L630.99,166.95 L631.38,167.00 L631.78,167.05 L632.18,167.09 L632.58,167.13 L632.97,167.17 L633.37,167.19 L633.77,167.22 L634.17,167.23 L634.56,167.24 L634.96,167.25 L635.36,167.25 L635.76,167.25 L636.15,167.24 L636.55,167.23 L636.95,167.22 L637.35,167.20 L637.74,167.18 L638.14,167.16 L638.54,167.14 L638.94,167.11 L639.33,167.07 L639.73,167.04 L640.13,167.00 L640.53,166.96 L640.93,166.91 L641.32,166.86 L641.72,166.81 L642.12,166.75 L642.52,166.69 L642.91,166.62 L643.31,166.56 L643.71,166.48 L644.11,166.41 L644.50,166.33 L644.90,166.25 L645.30,166.16 L645.70,166.07 L646.09,165.97 L646.49,165.87 L646.89,165.77 L647.29,165.66 L647.68,165.55 L648.08,165.44 L648.48,165.32 L648.88,165.19 L649.27,165.07 L649.67,164.93 L650.07,164.80 L650.47,164.66 L650.86,164.51 L651.26,164.36 L651.66,164.21 L652.06,164.05 L652.46,163.89 L652.85,163.72 L653.25,163.55 L653.65,163.37 L654.05,163.19 L654.44,163.01 L654.84,162.81 L655.24,162.62 L655.64,162.42 L656.03,162.22 L656.43,162.01 L656.83,161.79 L657.23,161.57 L657.62,161.35 L658.02,161.12 L658.42,160.89 L658.82,160.65 L659.21,160.40 L659.61,160.15 L660.01,159.90 L660.41,159.64 L660.80,159.38 L661.20,159.11 L661.60,158.83 L662.00,158.55 L662.39,158.27 L662.79,157.97 L663.19,157.68 L663.59,157.38 L663.99,157.07 L664.38,156.76 L664.78,156.44 L665.18,156.12 L665.58,155.79 L665.97,155.45 L666.37,155.11 L666.77,154.77 L667.17,154.41 L667.56,154.06 L667.96,153.69 L668.36,153.32 L668.76,152.95 L669.15,152.57 L669.55,152.18 L669.95,151.79 L670.35,151.39 L670.74,150.99 L671.14,150.57 L671.54,150.16 L671.94,149.74 L672.33,149.31 L672.73,148.87 L673.13,148.43 L673.53,147.98 L673.92,147.53 L674.32,147.07 L674.72,146.60" fill="none" stroke="#c4372f" stroke-width="1.3" stroke-linejoin="round" stroke-linecap="butt"/>
<rect x="508.40" y="2.30" width="174.40" height="172.50" fill="none" stroke="#3a3a3a" stroke-width="1.4"/>
<path d="M504.90,10.35 H508.40" stroke="#3a3a3a" stroke-width="1.15"/>
<path d="M504.90,41.73 H508.40" stroke="#3a3a3a" stroke-width="1.15"/>
<path d="M504.90,73.11 H508.40" stroke="#3a3a3a" stroke-width="1.15"/>
<path d="M504.90,104.49 H508.40" stroke="#3a3a3a" stroke-width="1.15"/>
<path d="M504.90,135.87 H508.40" stroke="#3a3a3a" stroke-width="1.15"/>
<path d="M504.90,156.14 H508.40" stroke="#3a3a3a" stroke-width="1.15"/>
<path d="M504.90,167.25 H508.40" stroke="#3a3a3a" stroke-width="1.15"/>
<path d="M556.04,174.80 V178.30" stroke="#3a3a3a" stroke-width="1.15"/>
<path d="M595.60,174.80 V178.30" stroke="#3a3a3a" stroke-width="1.15"/>
<path d="M635.16,174.80 V178.30" stroke="#3a3a3a" stroke-width="1.15"/>
<path d="M48.20,327.60 H95.94" stroke="#989898" stroke-width="1.45" stroke-dasharray="4.6 2.02" fill="none"/>
<path d="M56.40,211.43 L56.89,213.33 L57.39,215.22 L57.88,217.10 L58.37,218.97 L58.87,220.83 L59.36,222.68 L59.86,224.51 L60.35,226.34 L60.84,228.15 L61.34,229.95 L61.83,231.74 L62.32,233.52 L62.82,235.29 L63.31,237.05 L63.81,238.79 L64.30,240.52 L64.79,242.25 L65.29,243.96 L65.78,245.66 L66.27,247.35 L66.77,249.02 L67.26,250.69 L67.75,252.34 L68.25,253.99 L68.74,255.62 L69.24,257.24 L69.73,258.85 L70.22,260.44 L70.72,262.03 L71.21,263.60 L71.70,265.17 L72.20,266.72 L72.69,268.26 L73.18,269.79 L73.68,271.31 L74.17,272.81 L74.67,274.31 L75.16,275.79 L75.65,277.26 L76.15,278.72 L76.64,280.17 L77.13,281.61 L77.63,283.04 L78.12,284.45 L78.62,285.85 L79.11,287.25 L79.60,288.63 L80.10,289.99 L80.59,291.35 L81.08,292.70 L81.58,294.03 L82.07,295.35 L82.56,296.67 L83.06,297.97 L83.55,299.25 L84.05,300.53 L84.54,301.80 L85.03,303.05 L85.53,304.29 L86.02,305.52 L86.51,306.74 L87.01,307.95 L87.50,309.14 L87.99,310.33 L88.49,311.50 L88.98,312.66 L89.48,313.81 L89.97,314.95 L90.46,316.07 L90.96,317.19 L91.45,318.29 L91.94,319.38 L92.44,320.46 L92.93,321.53 L93.43,322.59 L93.92,323.63 L94.41,324.67 L94.91,325.69 L95.40,326.70 L95.74,326.95 L96.07,327.00 L96.41,327.05 L96.75,327.10 L97.08,327.15 L97.42,327.19 L97.76,327.23 L98.10,327.27 L98.43,327.31 L98.77,327.34 L99.11,327.37 L99.44,327.39 L99.78,327.41 L100.12,327.43 L100.45,327.44 L100.79,327.45 L101.13,327.45 L101.47,327.45 L101.80,327.44 L102.14,327.43 L102.48,327.42 L102.81,327.40 L103.15,327.38 L103.49,327.36 L103.82,327.33 L104.16,327.30 L104.50,327.27 L104.84,327.24 L105.17,327.21 L105.51,327.17 L105.85,327.13 L106.18,327.08 L106.52,327.03 L106.86,326.98 L107.19,326.92 L107.53,326.85 L107.87,326.78 L108.21,326.71 L108.54,326.63 L108.88,326.54 L109.22,326.45 L109.55,326.36 L109.89,326.27 L110.23,326.18 L110.56,326.08 L110.90,325.99 L111.24,325.89 L111.57,325.79 L111.91,325.70 L112.25,325.60 L112.59,325.50 L112.92,325.40 L113.26,325.31 L113.60,325.21 L113.93,325.11 L114.27,325.01 L114.61,324.91 L114.94,324.81 L115.28,324.71 L115.62,324.61 L115.96,324.51 L116.29,324.41 L116.63,324.31 L116.97,324.21 L117.30,324.11 L117.64,324.01 L117.98,323.91 L118.31,323.81 L118.65,323.70 L118.99,323.60 L119.33,323.50 L119.66,323.40 L120.00,323.30 L120.34,323.20 L120.67,323.10 L121.01,323.00 L121.35,322.89 L121.68,322.79 L122.02,322.69 L122.36,322.59 L122.69,322.49 L123.03,322.39 L123.37,322.29 L123.71,322.19 L124.04,322.08 L124.38,321.98 L124.72,321.88 L125.05,321.78 L125.39,321.68 L125.73,321.58 L126.06,321.48 L126.40,321.38 L126.74,321.28 L127.08,321.18 L127.41,321.08 L127.75,320.98 L128.09,320.88 L128.42,320.78 L128.76,320.68 L129.10,320.58 L129.43,320.48 L129.77,320.38 L130.11,320.28 L130.45,320.18 L130.78,320.08 L131.12,319.99 L131.46,319.89 L131.79,319.79 L132.13,319.69 L132.47,319.59 L132.80,319.49 L133.14,319.39 L133.48,319.29 L133.82,319.19 L134.15,319.10 L134.49,319.00 L134.83,318.90 L135.16,318.80 L135.50,318.70 L135.84,318.80 L136.17,318.90 L136.51,319.00 L136.85,319.10 L137.18,319.19 L137.52,319.29 L137.86,319.39 L138.20,319.49 L138.53,319.59 L138.87,319.69 L139.21,319.79 L139.54,319.89 L139.88,319.99 L140.22,320.08 L140.55,320.18 L140.89,320.28 L141.23,320.38 L141.57,320.48 L141.90,320.58 L142.24,320.68 L142.58,320.78 L142.91,320.88 L143.25,320.98 L143.59,321.08 L143.92,321.18 L144.26,321.28 L144.60,321.38 L144.94,321.48 L145.27,321.58 L145.61,321.68 L145.95,321.78 L146.28,321.88 L146.62,321.98 L146.96,322.08 L147.29,322.19 L147.63,322.29 L147.97,322.39 L148.31,322.49 L148.64,322.59 L148.98,322.69 L149.32,322.79 L149.65,322.89 L149.99,323.00 L150.33,323.10 L150.66,323.20 L151.00,323.30 L151.34,323.40 L151.67,323.50 L152.01,323.60 L152.35,323.70 L152.69,323.81 L153.02,323.91 L153.36,324.01 L153.70,324.11 L154.03,324.21 L154.37,324.31 L154.71,324.41 L155.04,324.51 L155.38,324.61 L155.72,324.71 L156.06,324.81 L156.39,324.91 L156.73,325.01 L157.07,325.11 L157.40,325.21 L157.74,325.31 L158.08,325.40 L158.41,325.50 L158.75,325.60 L159.09,325.70 L159.43,325.79 L159.76,325.89 L160.10,325.99 L160.44,326.08 L160.77,326.18 L161.11,326.27 L161.45,326.36 L161.78,326.45 L162.12,326.54 L162.46,326.63 L162.79,326.71 L163.13,326.78 L163.47,326.85 L163.81,326.92 L164.14,326.98 L164.48,327.03 L164.82,327.08 L165.15,327.13 L165.49,327.17 L165.83,327.21 L166.16,327.24 L166.50,327.27 L166.84,327.30 L167.18,327.33 L167.51,327.36 L167.85,327.38 L168.19,327.40 L168.52,327.42 L168.86,327.43 L169.20,327.44 L169.53,327.45 L169.87,327.45 L170.21,327.45 L170.55,327.44 L170.88,327.43 L171.22,327.41 L171.56,327.39 L171.89,327.37 L172.23,327.34 L172.57,327.31 L172.90,327.27 L173.24,327.23 L173.58,327.19 L173.92,327.15 L174.25,327.10 L174.59,327.05 L174.93,327.00 L175.26,326.95 L175.60,326.70 L176.09,325.69 L176.59,324.67 L177.08,323.63 L177.57,322.59 L178.07,321.53 L178.56,320.46 L179.06,319.38 L179.55,318.29 L180.04,317.19 L180.54,316.07 L181.03,314.95 L181.52,313.81 L182.02,312.66 L182.51,311.50 L183.01,310.33 L183.50,309.14 L183.99,307.95 L184.49,306.74 L184.98,305.52 L185.47,304.29 L185.97,303.05 L186.46,301.80 L186.95,300.53 L187.45,299.25 L187.94,297.97 L188.44,296.67 L188.93,295.35 L189.42,294.03 L189.92,292.70 L190.41,291.35 L190.90,289.99 L191.40,288.63 L191.89,287.25 L192.38,285.85 L192.88,284.45 L193.37,283.04 L193.87,281.61 L194.36,280.17 L194.85,278.72 L195.35,277.26 L195.84,275.79 L196.33,274.31 L196.83,272.81 L197.32,271.31 L197.82,269.79 L198.31,268.26 L198.80,266.72 L199.30,265.17 L199.79,263.60 L200.28,262.03 L200.78,260.44 L201.27,258.85 L201.76,257.24 L202.26,255.62 L202.75,253.99 L203.25,252.34 L203.74,250.69 L204.23,249.02 L204.73,247.35 L205.22,245.66 L205.71,243.96 L206.21,242.25 L206.70,240.52 L207.19,238.79 L207.69,237.05 L208.18,235.29 L208.68,233.52 L209.17,231.74 L209.66,229.95 L210.16,228.15 L210.65,226.34 L211.14,224.51 L211.64,222.68 L212.13,220.83 L212.63,218.97 L213.12,217.10 L213.61,215.22 L214.11,213.33 L214.60,211.43" fill="none" stroke="#4d65d9" stroke-width="1.3" stroke-linejoin="round" stroke-linecap="butt"/>
<path d="M56.40,279.05 L56.73,279.77 L57.06,280.49 L57.38,281.21 L57.71,281.93 L58.04,282.65 L58.37,283.36 L58.69,284.08 L59.02,284.80 L59.35,285.51 L59.68,286.22 L60.01,286.93 L60.33,287.64 L60.66,288.35 L60.99,289.05 L61.32,289.75 L61.64,290.44 L61.97,291.13 L62.30,291.82 L62.63,292.49 L62.95,293.16 L63.28,293.82 L63.61,294.48 L63.94,295.12 L64.27,295.75 L64.59,296.36 L64.92,296.97 L65.25,297.56 L65.58,298.14 L65.90,298.71 L66.23,299.27 L66.56,299.82 L66.89,300.36 L67.22,300.90 L67.54,301.42 L67.87,301.93 L68.20,302.43 L68.53,302.93 L68.85,303.42 L69.18,303.90 L69.51,304.38 L69.84,304.85 L70.16,305.31 L70.49,305.77 L70.82,306.22 L71.15,306.67 L71.48,307.11 L71.80,307.55 L72.13,307.98 L72.46,308.41 L72.79,308.84 L73.11,309.27 L73.44,309.69 L73.77,310.11 L74.10,310.53 L74.43,310.94 L74.75,311.35 L75.08,311.76 L75.41,312.16 L75.74,312.56 L76.06,312.96 L76.39,313.35 L76.72,313.74 L77.05,314.12 L77.37,314.50 L77.70,314.87 L78.03,315.24 L78.36,315.61 L78.69,315.97 L79.01,316.32 L79.34,316.67 L79.67,317.02 L80.00,317.35 L80.32,317.69 L80.65,318.01 L80.98,318.34 L81.31,318.65 L81.64,318.96 L81.96,319.27 L82.29,319.56 L82.62,319.85 L82.95,320.14 L83.27,320.41 L83.60,320.68 L83.93,320.95 L84.26,321.20 L84.58,321.45 L84.91,321.69 L85.24,321.93 L85.57,322.15 L85.90,322.37 L86.22,322.59 L86.55,322.79 L86.88,322.99 L87.21,323.18 L87.53,323.37 L87.86,323.55 L88.19,323.73 L88.52,323.90 L88.85,324.07 L89.17,324.23 L89.50,324.39 L89.83,324.55 L90.16,324.70 L90.48,324.85 L90.81,325.00 L91.14,325.14 L91.47,325.29 L91.79,325.43 L92.12,325.57 L92.45,325.70 L92.78,325.84 L93.11,325.97 L93.43,326.11 L93.76,326.24 L94.09,326.37 L94.42,326.51 L94.74,326.64 L95.07,326.77 L95.40,326.90 L95.91,327.95 L96.42,328.98 L96.92,330.01 L97.43,331.02 L97.94,332.01 L98.45,332.99 L98.95,333.96 L99.46,334.92 L99.97,335.86 L100.48,336.79 L100.98,337.70 L101.49,338.61 L102.00,339.49 L102.51,340.37 L103.01,341.23 L103.52,342.08 L104.03,342.92 L104.54,343.74 L105.04,344.55 L105.55,345.34 L106.06,346.12 L106.57,346.89 L107.07,347.65 L107.58,348.39 L108.09,349.12 L108.60,349.83 L109.11,350.53 L109.61,351.22 L110.12,351.90 L110.63,352.56 L111.14,353.21 L111.64,353.84 L112.15,354.46 L112.66,355.07 L113.17,355.66 L113.67,356.25 L114.18,356.81 L114.69,357.37 L115.20,357.91 L115.70,358.44 L116.21,358.95 L116.72,359.45 L117.23,359.94 L117.73,360.42 L118.24,360.88 L118.75,361.32 L119.26,361.76 L119.76,362.18 L120.27,362.59 L120.78,362.98 L121.29,363.36 L121.79,363.73 L122.30,364.08 L122.81,364.42 L123.32,364.75 L123.83,365.07 L124.33,365.37 L124.84,365.65 L125.35,365.93 L125.86,366.19 L126.36,366.44 L126.87,366.67 L127.38,366.89 L127.89,367.10 L128.39,367.29 L128.90,367.47 L129.41,367.64 L129.92,367.79 L130.42,367.93 L130.93,368.06 L131.44,368.17 L131.95,368.27 L132.45,368.36 L132.96,368.43 L133.47,368.49 L133.98,368.54 L134.48,368.57 L134.99,368.59 L135.50,368.60 L136.01,368.59 L136.52,368.57 L137.02,368.54 L137.53,368.49 L138.04,368.43 L138.55,368.36 L139.05,368.27 L139.56,368.17 L140.07,368.06 L140.58,367.93 L141.08,367.79 L141.59,367.64 L142.10,367.47 L142.61,367.29 L143.11,367.10 L143.62,366.89 L144.13,366.67 L144.64,366.44 L145.14,366.19 L145.65,365.93 L146.16,365.65 L146.67,365.37 L147.17,365.07 L147.68,364.75 L148.19,364.42 L148.70,364.08 L149.21,363.73 L149.71,363.36 L150.22,362.98 L150.73,362.59 L151.24,362.18 L151.74,361.76 L152.25,361.32 L152.76,360.88 L153.27,360.42 L153.77,359.94 L154.28,359.45 L154.79,358.95 L155.30,358.44 L155.80,357.91 L156.31,357.37 L156.82,356.81 L157.33,356.25 L157.83,355.66 L158.34,355.07 L158.85,354.46 L159.36,353.84 L159.86,353.21 L160.37,352.56 L160.88,351.90 L161.39,351.22 L161.89,350.53 L162.40,349.83 L162.91,349.12 L163.42,348.39 L163.93,347.65 L164.43,346.89 L164.94,346.12 L165.45,345.34 L165.96,344.55 L166.46,343.74 L166.97,342.92 L167.48,342.08 L167.99,341.23 L168.49,340.37 L169.00,339.49 L169.51,338.61 L170.02,337.70 L170.52,336.79 L171.03,335.86 L171.54,334.92 L172.05,333.96 L172.55,332.99 L173.06,332.01 L173.57,331.02 L174.08,330.01 L174.58,328.98 L175.09,327.95 L175.60,326.90 L175.93,326.77 L176.26,326.64 L176.58,326.51 L176.91,326.37 L177.24,326.24 L177.57,326.11 L177.89,325.97 L178.22,325.84 L178.55,325.70 L178.88,325.57 L179.21,325.43 L179.53,325.29 L179.86,325.14 L180.19,325.00 L180.52,324.85 L180.84,324.70 L181.17,324.55 L181.50,324.39 L181.83,324.23 L182.15,324.07 L182.48,323.90 L182.81,323.73 L183.14,323.55 L183.47,323.37 L183.79,323.18 L184.12,322.99 L184.45,322.79 L184.78,322.59 L185.10,322.37 L185.43,322.15 L185.76,321.93 L186.09,321.69 L186.42,321.45 L186.74,321.20 L187.07,320.95 L187.40,320.68 L187.73,320.41 L188.05,320.14 L188.38,319.85 L188.71,319.56 L189.04,319.27 L189.36,318.96 L189.69,318.65 L190.02,318.34 L190.35,318.01 L190.68,317.69 L191.00,317.35 L191.33,317.02 L191.66,316.67 L191.99,316.32 L192.31,315.97 L192.64,315.61 L192.97,315.24 L193.30,314.87 L193.63,314.50 L193.95,314.12 L194.28,313.74 L194.61,313.35 L194.94,312.96 L195.26,312.56 L195.59,312.16 L195.92,311.76 L196.25,311.35 L196.57,310.94 L196.90,310.53 L197.23,310.11 L197.56,309.69 L197.89,309.27 L198.21,308.84 L198.54,308.41 L198.87,307.98 L199.20,307.55 L199.52,307.11 L199.85,306.67 L200.18,306.22 L200.51,305.77 L200.84,305.31 L201.16,304.85 L201.49,304.38 L201.82,303.90 L202.15,303.42 L202.47,302.93 L202.80,302.43 L203.13,301.93 L203.46,301.42 L203.78,300.90 L204.11,300.36 L204.44,299.82 L204.77,299.27 L205.10,298.71 L205.42,298.14 L205.75,297.56 L206.08,296.97 L206.41,296.36 L206.73,295.75 L207.06,295.12 L207.39,294.48 L207.72,293.82 L208.05,293.16 L208.37,292.49 L208.70,291.82 L209.03,291.13 L209.36,290.44 L209.68,289.75 L210.01,289.05 L210.34,288.35 L210.67,287.64 L210.99,286.93 L211.32,286.22 L211.65,285.51 L211.98,284.80 L212.31,284.08 L212.63,283.36 L212.96,282.65 L213.29,281.93 L213.62,281.21 L213.94,280.49 L214.27,279.77 L214.60,279.05" fill="none" stroke="#c4372f" stroke-width="1.3" stroke-linejoin="round" stroke-linecap="butt"/>
<rect x="48.50" y="204.00" width="174.00" height="172.80" fill="none" stroke="#3a3a3a" stroke-width="1.4"/>
<path d="M45.00,236.58 H48.50" stroke="#3a3a3a" stroke-width="1.15"/>
<path d="M45.00,269.66 H48.50" stroke="#3a3a3a" stroke-width="1.15"/>
<path d="M45.00,302.74 H48.50" stroke="#3a3a3a" stroke-width="1.15"/>
<path d="M45.00,327.96 H48.50" stroke="#3a3a3a" stroke-width="1.15"/>
<path d="M45.00,368.90 H48.50" stroke="#3a3a3a" stroke-width="1.15"/>
<path d="M45.00,335.82 H48.50" stroke="#3a3a3a" stroke-width="1.15"/>
<path d="M95.94,376.80 V380.30" stroke="#3a3a3a" stroke-width="1.15"/>
<path d="M135.50,376.80 V380.30" stroke="#3a3a3a" stroke-width="1.15"/>
<path d="M175.06,376.80 V380.30" stroke="#3a3a3a" stroke-width="1.15"/>
<path d="M278.10,326.60 H325.99" stroke="#989898" stroke-width="1.45" stroke-dasharray="4.6 2.02" fill="none"/>
<path d="M286.40,211.90 L286.73,212.93 L287.05,213.97 L287.38,215.00 L287.70,216.03 L288.03,217.07 L288.35,218.10 L288.68,219.14 L289.00,220.17 L289.33,221.21 L289.65,222.24 L289.98,223.28 L290.30,224.32 L290.63,225.36 L290.95,226.39 L291.28,227.43 L291.60,228.47 L291.93,229.51 L292.25,230.56 L292.58,231.60 L292.90,232.64 L293.23,233.69 L293.55,234.74 L293.88,235.78 L294.21,236.83 L294.53,237.88 L294.86,238.93 L295.18,239.99 L295.51,241.04 L295.83,242.10 L296.16,243.16 L296.48,244.22 L296.81,245.28 L297.13,246.34 L297.46,247.41 L297.78,248.48 L298.11,249.55 L298.43,250.62 L298.76,251.69 L299.08,252.77 L299.41,253.85 L299.73,254.93 L300.06,256.02 L300.38,257.11 L300.71,258.20 L301.03,259.30 L301.36,260.40 L301.68,261.50 L302.01,262.61 L302.34,263.72 L302.66,264.83 L302.99,265.95 L303.31,267.07 L303.64,268.20 L303.96,269.33 L304.29,270.46 L304.61,271.59 L304.94,272.72 L305.26,273.85 L305.59,274.98 L305.91,276.11 L306.24,277.23 L306.56,278.35 L306.89,279.46 L307.21,280.57 L307.54,281.68 L307.86,282.77 L308.19,283.86 L308.51,284.94 L308.84,286.01 L309.16,287.07 L309.49,288.11 L309.82,289.15 L310.14,290.17 L310.47,291.18 L310.79,292.18 L311.12,293.16 L311.44,294.14 L311.77,295.10 L312.09,296.05 L312.42,296.99 L312.74,297.91 L313.07,298.83 L313.39,299.74 L313.72,300.63 L314.04,301.52 L314.37,302.39 L314.69,303.26 L315.02,304.11 L315.34,304.96 L315.67,305.80 L315.99,306.63 L316.32,307.45 L316.64,308.26 L316.97,309.06 L317.29,309.86 L317.62,310.64 L317.95,311.42 L318.27,312.18 L318.60,312.93 L318.92,313.68 L319.25,314.41 L319.57,315.13 L319.90,315.83 L320.22,316.53 L320.55,317.21 L320.87,317.88 L321.20,318.53 L321.52,319.17 L321.85,319.80 L322.17,320.41 L322.50,321.00 L322.82,321.55 L323.15,322.06 L323.47,322.51 L323.80,322.90 L324.12,323.21 L324.45,323.45 L324.77,323.64 L325.10,323.80 L325.44,323.76 L325.78,323.71 L326.12,323.66 L326.46,323.61 L326.80,323.54 L327.14,323.47 L327.48,323.38 L327.82,323.28 L328.16,323.17 L328.50,323.04 L328.84,322.91 L329.18,322.77 L329.52,322.61 L329.86,322.45 L330.20,322.28 L330.54,322.09 L330.88,321.90 L331.22,321.70 L331.56,321.49 L331.90,321.28 L332.24,321.06 L332.58,320.83 L332.92,320.59 L333.26,320.35 L333.60,320.10 L333.94,319.85 L334.28,319.59 L334.62,319.33 L334.96,319.06 L335.30,318.78 L335.64,318.50 L335.98,318.22 L336.32,317.93 L336.66,317.63 L337.00,317.33 L337.34,317.03 L337.68,316.72 L338.02,316.41 L338.36,316.09 L338.70,315.76 L339.04,315.44 L339.38,315.10 L339.72,314.77 L340.06,314.43 L340.40,314.08 L340.74,313.73 L341.08,313.38 L341.42,313.02 L341.76,312.66 L342.10,312.29 L342.44,311.92 L342.78,311.55 L343.12,311.17 L343.46,310.78 L343.80,310.39 L344.14,310.00 L344.48,309.60 L344.82,309.20 L345.16,308.79 L345.49,308.37 L345.83,307.95 L346.17,307.53 L346.51,307.10 L346.85,306.66 L347.19,306.22 L347.53,305.78 L347.87,305.32 L348.21,304.87 L348.55,304.40 L348.89,303.93 L349.23,303.45 L349.57,302.97 L349.91,302.49 L350.25,301.99 L350.59,301.50 L350.93,301.00 L351.27,300.49 L351.61,299.98 L351.95,299.47 L352.29,298.96 L352.63,298.44 L352.97,297.92 L353.31,297.40 L353.65,296.88 L353.99,296.36 L354.33,295.83 L354.67,295.31 L355.01,294.78 L355.35,294.26 L355.69,293.73 L356.03,293.21 L356.37,292.69 L356.71,292.17 L357.05,291.65 L357.39,291.13 L357.73,290.62 L358.07,290.10 L358.41,289.59 L358.75,289.09 L359.09,288.58 L359.43,288.07 L359.77,287.57 L360.11,287.07 L360.45,286.58 L360.79,286.09 L361.13,285.60 L361.47,285.11 L361.81,284.63 L362.15,284.16 L362.49,283.71 L362.83,283.27 L363.17,282.84 L363.51,282.44 L363.85,282.05 L364.19,281.69 L364.53,281.35 L364.87,281.03 L365.21,280.71 L365.55,280.40 L365.89,280.71 L366.23,281.03 L366.57,281.35 L366.91,281.69 L367.25,282.05 L367.59,282.44 L367.93,282.84 L368.27,283.27 L368.61,283.71 L368.95,284.16 L369.29,284.63 L369.63,285.11 L369.97,285.60 L370.31,286.09 L370.65,286.58 L370.99,287.07 L371.33,287.57 L371.67,288.07 L372.01,288.58 L372.35,289.09 L372.69,289.59 L373.03,290.10 L373.37,290.62 L373.71,291.13 L374.05,291.65 L374.39,292.17 L374.73,292.69 L375.07,293.21 L375.41,293.73 L375.75,294.26 L376.09,294.78 L376.43,295.31 L376.77,295.83 L377.11,296.36 L377.45,296.88 L377.79,297.40 L378.13,297.92 L378.47,298.44 L378.81,298.96 L379.15,299.47 L379.49,299.98 L379.83,300.49 L380.17,301.00 L380.51,301.50 L380.85,301.99 L381.19,302.49 L381.53,302.97 L381.87,303.45 L382.21,303.93 L382.55,304.40 L382.89,304.87 L383.23,305.32 L383.57,305.78 L383.91,306.22 L384.25,306.66 L384.59,307.10 L384.93,307.53 L385.27,307.95 L385.61,308.37 L385.94,308.79 L386.28,309.20 L386.62,309.60 L386.96,310.00 L387.30,310.39 L387.64,310.78 L387.98,311.17 L388.32,311.55 L388.66,311.92 L389.00,312.29 L389.34,312.66 L389.68,313.02 L390.02,313.38 L390.36,313.73 L390.70,314.08 L391.04,314.43 L391.38,314.77 L391.72,315.10 L392.06,315.44 L392.40,315.76 L392.74,316.09 L393.08,316.41 L393.42,316.72 L393.76,317.03 L394.10,317.33 L394.44,317.63 L394.78,317.93 L395.12,318.22 L395.46,318.50 L395.80,318.78 L396.14,319.06 L396.48,319.33 L396.82,319.59 L397.16,319.85 L397.50,320.10 L397.84,320.35 L398.18,320.59 L398.52,320.83 L398.86,321.06 L399.20,321.28 L399.54,321.49 L399.88,321.70 L400.22,321.90 L400.56,322.09 L400.90,322.28 L401.24,322.45 L401.58,322.61 L401.92,322.77 L402.26,322.91 L402.60,323.04 L402.94,323.17 L403.28,323.28 L403.62,323.38 L403.96,323.47 L404.30,323.54 L404.64,323.61 L404.98,323.66 L405.32,323.71 L405.66,323.76 L406.00,323.80 L406.33,323.64 L406.65,323.45 L406.98,323.21 L407.30,322.90 L407.63,322.51 L407.95,322.06 L408.28,321.55 L408.60,321.00 L408.93,320.41 L409.25,319.80 L409.58,319.17 L409.90,318.53 L410.23,317.88 L410.55,317.21 L410.88,316.53 L411.20,315.83 L411.53,315.13 L411.85,314.41 L412.18,313.68 L412.50,312.93 L412.83,312.18 L413.15,311.42 L413.48,310.64 L413.81,309.86 L414.13,309.06 L414.46,308.26 L414.78,307.45 L415.11,306.63 L415.43,305.80 L415.76,304.96 L416.08,304.11 L416.41,303.26 L416.73,302.39 L417.06,301.52 L417.38,300.63 L417.71,299.74 L418.03,298.83 L418.36,297.91 L418.68,296.99 L419.01,296.05 L419.33,295.10 L419.66,294.14 L419.98,293.16 L420.31,292.18 L420.63,291.18 L420.96,290.17 L421.28,289.15 L421.61,288.11 L421.94,287.07 L422.26,286.01 L422.59,284.94 L422.91,283.86 L423.24,282.77 L423.56,281.68 L423.89,280.57 L424.21,279.46 L424.54,278.35 L424.86,277.23 L425.19,276.11 L425.51,274.98 L425.84,273.85 L426.16,272.72 L426.49,271.59 L426.81,270.46 L427.14,269.33 L427.46,268.20 L427.79,267.07 L428.11,265.95 L428.44,264.83 L428.76,263.72 L429.09,262.61 L429.42,261.50 L429.74,260.40 L430.07,259.30 L430.39,258.20 L430.72,257.11 L431.04,256.02 L431.37,254.93 L431.69,253.85 L432.02,252.77 L432.34,251.69 L432.67,250.62 L432.99,249.55 L433.32,248.48 L433.64,247.41 L433.97,246.34 L434.29,245.28 L434.62,244.22 L434.94,243.16 L435.27,242.10 L435.59,241.04 L435.92,239.99 L436.24,238.93 L436.57,237.88 L436.89,236.83 L437.22,235.78 L437.55,234.74 L437.87,233.69 L438.20,232.64 L438.52,231.60 L438.85,230.56 L439.17,229.51 L439.50,228.47 L439.82,227.43 L440.15,226.39 L440.47,225.36 L440.80,224.32 L441.12,223.28 L441.45,222.24 L441.77,221.21 L442.10,220.17 L442.42,219.14 L442.75,218.10 L443.07,217.07 L443.40,216.03 L443.72,215.00 L444.05,213.97 L444.37,212.93 L444.70,211.90" fill="none" stroke="#4d65d9" stroke-width="1.3" stroke-linejoin="round" stroke-linecap="butt"/>
<path d="M286.40,291.15 L286.73,291.73 L287.05,292.31 L287.38,292.89 L287.70,293.46 L288.03,294.04 L288.36,294.61 L288.68,295.19 L289.01,295.76 L289.33,296.33 L289.66,296.89 L289.99,297.46 L290.31,298.02 L290.64,298.58 L290.96,299.13 L291.29,299.68 L291.62,300.23 L291.94,300.77 L292.27,301.31 L292.59,301.84 L292.92,302.37 L293.25,302.89 L293.57,303.41 L293.90,303.92 L294.23,304.43 L294.55,304.93 L294.88,305.42 L295.20,305.90 L295.53,306.38 L295.86,306.85 L296.18,307.32 L296.51,307.78 L296.83,308.23 L297.16,308.67 L297.49,309.11 L297.81,309.54 L298.14,309.97 L298.46,310.39 L298.79,310.80 L299.12,311.20 L299.44,311.60 L299.77,311.99 L300.09,312.38 L300.42,312.76 L300.75,313.13 L301.07,313.49 L301.40,313.85 L301.72,314.20 L302.05,314.54 L302.38,314.88 L302.70,315.21 L303.03,315.54 L303.35,315.86 L303.68,316.17 L304.01,316.47 L304.33,316.77 L304.66,317.06 L304.98,317.35 L305.31,317.63 L305.64,317.90 L305.96,318.17 L306.29,318.43 L306.62,318.69 L306.94,318.93 L307.27,319.18 L307.59,319.41 L307.92,319.64 L308.25,319.87 L308.57,320.08 L308.90,320.30 L309.22,320.50 L309.55,320.70 L309.88,320.90 L310.20,321.08 L310.53,321.27 L310.85,321.44 L311.18,321.61 L311.51,321.78 L311.83,321.94 L312.16,322.09 L312.48,322.24 L312.81,322.38 L313.14,322.52 L313.46,322.65 L313.79,322.77 L314.11,322.89 L314.44,323.00 L314.77,323.11 L315.09,323.21 L315.42,323.31 L315.74,323.40 L316.07,323.49 L316.40,323.57 L316.72,323.65 L317.05,323.72 L317.37,323.79 L317.70,323.85 L318.03,323.91 L318.35,323.96 L318.68,324.01 L319.01,324.06 L319.33,324.10 L319.66,324.13 L319.98,324.17 L320.31,324.20 L320.64,324.23 L320.96,324.26 L321.29,324.29 L321.61,324.32 L321.94,324.35 L322.27,324.38 L322.59,324.41 L322.92,324.44 L323.24,324.48 L323.57,324.51 L323.90,324.54 L324.22,324.56 L324.55,324.58 L324.87,324.60 L325.20,324.60 L325.71,325.76 L326.22,326.91 L326.73,328.04 L327.24,329.16 L327.75,330.26 L328.26,331.34 L328.78,332.41 L329.29,333.46 L329.80,334.49 L330.31,335.51 L330.82,336.51 L331.33,337.50 L331.84,338.47 L332.35,339.42 L332.86,340.36 L333.37,341.28 L333.88,342.19 L334.39,343.08 L334.90,343.95 L335.42,344.81 L335.93,345.65 L336.44,346.48 L336.95,347.29 L337.46,348.08 L337.97,348.86 L338.48,349.63 L338.99,350.38 L339.50,351.11 L340.01,351.82 L340.52,352.53 L341.03,353.21 L341.54,353.88 L342.06,354.54 L342.57,355.17 L343.08,355.80 L343.59,356.41 L344.10,357.00 L344.61,357.58 L345.12,358.14 L345.63,358.68 L346.14,359.22 L346.65,359.73 L347.16,360.23 L347.67,360.72 L348.18,361.19 L348.69,361.65 L349.21,362.09 L349.72,362.52 L350.23,362.93 L350.74,363.32 L351.25,363.71 L351.76,364.07 L352.27,364.43 L352.78,364.76 L353.29,365.09 L353.80,365.40 L354.31,365.69 L354.82,365.97 L355.33,366.24 L355.85,366.49 L356.36,366.73 L356.87,366.95 L357.38,367.16 L357.89,367.35 L358.40,367.54 L358.91,367.70 L359.42,367.86 L359.93,368.00 L360.44,368.13 L360.95,368.24 L361.46,368.34 L361.97,368.43 L362.49,368.50 L363.00,368.57 L363.51,368.62 L364.02,368.65 L364.53,368.68 L365.04,368.70 L365.55,368.70 L366.06,368.70 L366.57,368.68 L367.08,368.65 L367.59,368.62 L368.10,368.57 L368.61,368.50 L369.13,368.43 L369.64,368.34 L370.15,368.24 L370.66,368.13 L371.17,368.00 L371.68,367.86 L372.19,367.70 L372.70,367.54 L373.21,367.35 L373.72,367.16 L374.23,366.95 L374.74,366.73 L375.25,366.49 L375.77,366.24 L376.28,365.97 L376.79,365.69 L377.30,365.40 L377.81,365.09 L378.32,364.76 L378.83,364.43 L379.34,364.07 L379.85,363.71 L380.36,363.32 L380.87,362.93 L381.38,362.52 L381.89,362.09 L382.41,361.65 L382.92,361.19 L383.43,360.72 L383.94,360.23 L384.45,359.73 L384.96,359.22 L385.47,358.68 L385.98,358.14 L386.49,357.58 L387.00,357.00 L387.51,356.41 L388.02,355.80 L388.53,355.17 L389.04,354.54 L389.56,353.88 L390.07,353.21 L390.58,352.53 L391.09,351.82 L391.60,351.11 L392.11,350.38 L392.62,349.63 L393.13,348.86 L393.64,348.08 L394.15,347.29 L394.66,346.48 L395.17,345.65 L395.68,344.81 L396.20,343.95 L396.71,343.08 L397.22,342.19 L397.73,341.28 L398.24,340.36 L398.75,339.42 L399.26,338.47 L399.77,337.50 L400.28,336.51 L400.79,335.51 L401.30,334.49 L401.81,333.46 L402.32,332.41 L402.84,331.34 L403.35,330.26 L403.86,329.16 L404.37,328.04 L404.88,326.91 L405.39,325.76 L405.90,324.60 L406.23,324.60 L406.55,324.58 L406.88,324.56 L407.20,324.54 L407.53,324.51 L407.86,324.48 L408.18,324.44 L408.51,324.41 L408.83,324.38 L409.16,324.35 L409.49,324.32 L409.81,324.29 L410.14,324.26 L410.46,324.23 L410.79,324.20 L411.12,324.17 L411.44,324.13 L411.77,324.10 L412.09,324.06 L412.42,324.01 L412.75,323.96 L413.07,323.91 L413.40,323.85 L413.73,323.79 L414.05,323.72 L414.38,323.65 L414.70,323.57 L415.03,323.49 L415.36,323.40 L415.68,323.31 L416.01,323.21 L416.33,323.11 L416.66,323.00 L416.99,322.89 L417.31,322.77 L417.64,322.65 L417.96,322.52 L418.29,322.38 L418.62,322.24 L418.94,322.09 L419.27,321.94 L419.59,321.78 L419.92,321.61 L420.25,321.44 L420.57,321.27 L420.90,321.08 L421.22,320.90 L421.55,320.70 L421.88,320.50 L422.20,320.30 L422.53,320.08 L422.85,319.87 L423.18,319.64 L423.51,319.41 L423.83,319.18 L424.16,318.93 L424.48,318.69 L424.81,318.43 L425.14,318.17 L425.46,317.90 L425.79,317.63 L426.12,317.35 L426.44,317.06 L426.77,316.77 L427.09,316.47 L427.42,316.17 L427.75,315.86 L428.07,315.54 L428.40,315.21 L428.72,314.88 L429.05,314.54 L429.38,314.20 L429.70,313.85 L430.03,313.49 L430.35,313.13 L430.68,312.76 L431.01,312.38 L431.33,311.99 L431.66,311.60 L431.98,311.20 L432.31,310.80 L432.64,310.39 L432.96,309.97 L433.29,309.54 L433.61,309.11 L433.94,308.67 L434.27,308.23 L434.59,307.78 L434.92,307.32 L435.24,306.85 L435.57,306.38 L435.90,305.90 L436.22,305.42 L436.55,304.93 L436.87,304.43 L437.20,303.92 L437.53,303.41 L437.85,302.89 L438.18,302.37 L438.51,301.84 L438.83,301.31 L439.16,300.77 L439.48,300.23 L439.81,299.68 L440.14,299.13 L440.46,298.58 L440.79,298.02 L441.11,297.46 L441.44,296.89 L441.77,296.33 L442.09,295.76 L442.42,295.19 L442.74,294.61 L443.07,294.04 L443.40,293.46 L443.72,292.89 L444.05,292.31 L444.37,291.73 L444.70,291.15" fill="none" stroke="#c4372f" stroke-width="1.3" stroke-linejoin="round" stroke-linecap="butt"/>
<rect x="278.40" y="204.40" width="174.20" height="172.40" fill="none" stroke="#3a3a3a" stroke-width="1.4"/>
<path d="M274.90,207.15 H278.40" stroke="#3a3a3a" stroke-width="1.15"/>
<path d="M274.90,247.75 H278.40" stroke="#3a3a3a" stroke-width="1.15"/>
<path d="M274.90,288.35 H278.40" stroke="#3a3a3a" stroke-width="1.15"/>
<path d="M274.90,326.60 H278.40" stroke="#3a3a3a" stroke-width="1.15"/>
<path d="M274.90,369.55 H278.40" stroke="#3a3a3a" stroke-width="1.15"/>
<path d="M274.90,328.70 H278.40" stroke="#3a3a3a" stroke-width="1.15"/>
<path d="M325.99,376.80 V380.30" stroke="#3a3a3a" stroke-width="1.15"/>
<path d="M365.55,376.80 V380.30" stroke="#3a3a3a" stroke-width="1.15"/>
<path d="M405.11,376.80 V380.30" stroke="#3a3a3a" stroke-width="1.15"/>
<path d="M508.10,308.50 H556.04" stroke="#989898" stroke-width="1.45" stroke-dasharray="4.6 2.02" fill="none"/>
<path d="M516.40,231.40 L516.74,232.20 L517.08,233.00 L517.42,233.79 L517.76,234.59 L518.10,235.38 L518.44,236.16 L518.78,236.95 L519.12,237.73 L519.46,238.50 L519.80,239.27 L520.14,240.03 L520.48,240.79 L520.82,241.53 L521.16,242.27 L521.51,243.00 L521.85,243.72 L522.19,244.43 L522.53,245.12 L522.87,245.81 L523.21,246.49 L523.55,247.16 L523.89,247.82 L524.23,248.47 L524.57,249.11 L524.91,249.74 L525.25,250.36 L525.59,250.97 L525.93,251.58 L526.27,252.17 L526.61,252.76 L526.95,253.34 L527.29,253.91 L527.63,254.47 L527.97,255.02 L528.31,255.56 L528.65,256.10 L528.99,256.62 L529.33,257.14 L529.67,257.65 L530.01,258.16 L530.35,258.65 L530.69,259.14 L531.03,259.63 L531.37,260.10 L531.72,260.57 L532.06,261.04 L532.40,261.50 L532.74,261.95 L533.08,262.40 L533.42,262.84 L533.76,263.28 L534.10,263.71 L534.44,264.14 L534.78,264.56 L535.12,264.98 L535.46,265.39 L535.80,265.81 L536.14,266.22 L536.48,266.63 L536.82,267.04 L537.16,267.45 L537.50,267.87 L537.84,268.29 L538.18,268.72 L538.52,269.16 L538.86,269.61 L539.20,270.06 L539.54,270.53 L539.88,271.02 L540.22,271.52 L540.56,272.03 L540.90,272.56 L541.24,273.12 L541.58,273.69 L541.93,274.29 L542.27,274.90 L542.61,275.55 L542.95,276.21 L543.29,276.89 L543.63,277.59 L543.97,278.31 L544.31,279.04 L544.65,279.78 L544.99,280.53 L545.33,281.28 L545.67,282.05 L546.01,282.81 L546.35,283.58 L546.69,284.35 L547.03,285.12 L547.37,285.88 L547.71,286.65 L548.05,287.41 L548.39,288.16 L548.73,288.92 L549.07,289.68 L549.41,290.43 L549.75,291.18 L550.09,291.94 L550.43,292.69 L550.77,293.44 L551.11,294.20 L551.45,294.95 L551.79,295.70 L552.14,296.46 L552.48,297.21 L552.82,297.97 L553.16,298.73 L553.50,299.48 L553.84,300.24 L554.18,301.00 L554.52,301.76 L554.86,302.53 L555.20,303.29 L555.54,304.05 L555.88,304.81 L556.22,305.57 L556.56,306.34 L556.90,307.10 L557.23,306.87 L557.55,306.64 L557.88,306.42 L558.20,306.19 L558.53,305.95 L558.85,305.72 L559.18,305.48 L559.50,305.24 L559.83,305.00 L560.15,304.75 L560.48,304.50 L560.80,304.24 L561.13,303.97 L561.45,303.70 L561.78,303.43 L562.10,303.14 L562.43,302.85 L562.75,302.55 L563.08,302.24 L563.40,301.93 L563.73,301.60 L564.05,301.27 L564.38,300.93 L564.71,300.58 L565.03,300.22 L565.36,299.86 L565.68,299.49 L566.01,299.11 L566.33,298.72 L566.66,298.33 L566.98,297.93 L567.31,297.52 L567.63,297.11 L567.96,296.69 L568.28,296.26 L568.61,295.82 L568.93,295.38 L569.26,294.94 L569.58,294.48 L569.91,294.02 L570.23,293.56 L570.56,293.09 L570.88,292.61 L571.21,292.12 L571.53,291.63 L571.86,291.13 L572.18,290.62 L572.51,290.11 L572.84,289.58 L573.16,289.05 L573.49,288.51 L573.81,287.97 L574.14,287.41 L574.46,286.85 L574.79,286.28 L575.11,285.69 L575.44,285.10 L575.76,284.50 L576.09,283.89 L576.41,283.28 L576.74,282.65 L577.06,282.01 L577.39,281.36 L577.71,280.71 L578.04,280.04 L578.36,279.37 L578.69,278.69 L579.01,278.00 L579.34,277.30 L579.66,276.59 L579.99,275.88 L580.32,275.16 L580.64,274.43 L580.97,273.70 L581.29,272.96 L581.62,272.21 L581.94,271.46 L582.27,270.70 L582.59,269.94 L582.92,269.17 L583.24,268.40 L583.57,267.62 L583.89,266.84 L584.22,266.05 L584.54,265.25 L584.87,264.45 L585.19,263.64 L585.52,262.82 L585.84,261.99 L586.17,261.16 L586.49,260.31 L586.82,259.45 L587.14,258.59 L587.47,257.71 L587.79,256.82 L588.12,255.92 L588.45,255.00 L588.77,254.07 L589.10,253.13 L589.42,252.18 L589.75,251.21 L590.07,250.23 L590.40,249.25 L590.72,248.26 L591.05,247.26 L591.37,246.27 L591.70,245.27 L592.02,244.27 L592.35,243.28 L592.67,242.29 L593.00,241.30 L593.32,240.33 L593.65,239.36 L593.97,238.40 L594.30,237.45 L594.62,236.51 L594.95,235.57 L595.27,234.63 L595.60,233.70 L595.93,234.63 L596.25,235.57 L596.58,236.51 L596.90,237.45 L597.23,238.40 L597.55,239.36 L597.88,240.33 L598.20,241.30 L598.53,242.29 L598.85,243.28 L599.18,244.27 L599.50,245.27 L599.83,246.27 L600.15,247.26 L600.48,248.26 L600.80,249.25 L601.13,250.23 L601.45,251.21 L601.78,252.18 L602.10,253.13 L602.43,254.07 L602.75,255.00 L603.08,255.92 L603.41,256.82 L603.73,257.71 L604.06,258.59 L604.38,259.45 L604.71,260.31 L605.03,261.16 L605.36,261.99 L605.68,262.82 L606.01,263.64 L606.33,264.45 L606.66,265.25 L606.98,266.05 L607.31,266.84 L607.63,267.62 L607.96,268.40 L608.28,269.17 L608.61,269.94 L608.93,270.70 L609.26,271.46 L609.58,272.21 L609.91,272.96 L610.23,273.70 L610.56,274.43 L610.88,275.16 L611.21,275.88 L611.54,276.59 L611.86,277.30 L612.19,278.00 L612.51,278.69 L612.84,279.37 L613.16,280.04 L613.49,280.71 L613.81,281.36 L614.14,282.01 L614.46,282.65 L614.79,283.28 L615.11,283.89 L615.44,284.50 L615.76,285.10 L616.09,285.69 L616.41,286.28 L616.74,286.85 L617.06,287.41 L617.39,287.97 L617.71,288.51 L618.04,289.05 L618.36,289.58 L618.69,290.11 L619.02,290.62 L619.34,291.13 L619.67,291.63 L619.99,292.12 L620.32,292.61 L620.64,293.09 L620.97,293.56 L621.29,294.02 L621.62,294.48 L621.94,294.94 L622.27,295.38 L622.59,295.82 L622.92,296.26 L623.24,296.69 L623.57,297.11 L623.89,297.52 L624.22,297.93 L624.54,298.33 L624.87,298.72 L625.19,299.11 L625.52,299.49 L625.84,299.86 L626.17,300.22 L626.49,300.58 L626.82,300.93 L627.15,301.27 L627.47,301.60 L627.80,301.93 L628.12,302.24 L628.45,302.55 L628.77,302.85 L629.10,303.14 L629.42,303.43 L629.75,303.70 L630.07,303.97 L630.40,304.24 L630.72,304.50 L631.05,304.75 L631.37,305.00 L631.70,305.24 L632.02,305.48 L632.35,305.72 L632.67,305.95 L633.00,306.19 L633.32,306.42 L633.65,306.64 L633.97,306.87 L634.30,307.10 L634.64,306.34 L634.98,305.57 L635.32,304.81 L635.66,304.05 L636.00,303.29 L636.34,302.53 L636.68,301.76 L637.02,301.00 L637.36,300.24 L637.70,299.48 L638.04,298.73 L638.38,297.97 L638.72,297.21 L639.06,296.46 L639.41,295.70 L639.75,294.95 L640.09,294.20 L640.43,293.44 L640.77,292.69 L641.11,291.94 L641.45,291.18 L641.79,290.43 L642.13,289.68 L642.47,288.92 L642.81,288.16 L643.15,287.41 L643.49,286.65 L643.83,285.88 L644.17,285.12 L644.51,284.35 L644.85,283.58 L645.19,282.81 L645.53,282.05 L645.87,281.28 L646.21,280.53 L646.55,279.78 L646.89,279.04 L647.23,278.31 L647.57,277.59 L647.91,276.89 L648.25,276.21 L648.59,275.55 L648.93,274.90 L649.27,274.29 L649.62,273.69 L649.96,273.12 L650.30,272.56 L650.64,272.03 L650.98,271.52 L651.32,271.02 L651.66,270.53 L652.00,270.06 L652.34,269.61 L652.68,269.16 L653.02,268.72 L653.36,268.29 L653.70,267.87 L654.04,267.45 L654.38,267.04 L654.72,266.63 L655.06,266.22 L655.40,265.81 L655.74,265.39 L656.08,264.98 L656.42,264.56 L656.76,264.14 L657.10,263.71 L657.44,263.28 L657.78,262.84 L658.12,262.40 L658.46,261.95 L658.80,261.50 L659.14,261.04 L659.48,260.57 L659.83,260.10 L660.17,259.63 L660.51,259.14 L660.85,258.65 L661.19,258.16 L661.53,257.65 L661.87,257.14 L662.21,256.62 L662.55,256.10 L662.89,255.56 L663.23,255.02 L663.57,254.47 L663.91,253.91 L664.25,253.34 L664.59,252.76 L664.93,252.17 L665.27,251.58 L665.61,250.97 L665.95,250.36 L666.29,249.74 L666.63,249.11 L666.97,248.47 L667.31,247.82 L667.65,247.16 L667.99,246.49 L668.33,245.81 L668.67,245.12 L669.01,244.43 L669.35,243.72 L669.69,243.00 L670.04,242.27 L670.38,241.53 L670.72,240.79 L671.06,240.03 L671.40,239.27 L671.74,238.50 L672.08,237.73 L672.42,236.95 L672.76,236.16 L673.10,235.38 L673.44,234.59 L673.78,233.79 L674.12,233.00 L674.46,232.20 L674.80,231.40" fill="none" stroke="#4d65d9" stroke-width="1.3" stroke-linejoin="round" stroke-linecap="butt"/>
<path d="M516.40,261.40 L516.74,262.32 L517.08,263.24 L517.42,264.16 L517.76,265.07 L518.10,265.99 L518.44,266.90 L518.78,267.80 L519.12,268.70 L519.46,269.59 L519.80,270.48 L520.14,271.35 L520.48,272.22 L520.82,273.08 L521.16,273.93 L521.51,274.77 L521.85,275.59 L522.19,276.41 L522.53,277.21 L522.87,278.00 L523.21,278.78 L523.55,279.55 L523.89,280.31 L524.23,281.06 L524.57,281.80 L524.91,282.52 L525.25,283.24 L525.59,283.95 L525.93,284.65 L526.27,285.34 L526.61,286.02 L526.95,286.69 L527.29,287.35 L527.63,288.00 L527.97,288.64 L528.31,289.26 L528.65,289.86 L528.99,290.45 L529.33,291.02 L529.67,291.58 L530.01,292.12 L530.35,292.64 L530.69,293.14 L531.03,293.63 L531.37,294.11 L531.72,294.57 L532.06,295.02 L532.40,295.46 L532.74,295.89 L533.08,296.31 L533.42,296.72 L533.76,297.13 L534.10,297.53 L534.44,297.92 L534.78,298.31 L535.12,298.70 L535.46,299.08 L535.80,299.46 L536.14,299.84 L536.48,300.22 L536.82,300.59 L537.16,300.96 L537.50,301.33 L537.84,301.69 L538.18,302.05 L538.52,302.40 L538.86,302.75 L539.20,303.09 L539.54,303.42 L539.88,303.75 L540.22,304.07 L540.56,304.39 L540.90,304.69 L541.24,304.99 L541.58,305.28 L541.93,305.56 L542.27,305.83 L542.61,306.09 L542.95,306.34 L543.29,306.59 L543.63,306.82 L543.97,307.04 L544.31,307.25 L544.65,307.46 L544.99,307.65 L545.33,307.84 L545.67,308.01 L546.01,308.18 L546.35,308.33 L546.69,308.48 L547.03,308.62 L547.37,308.74 L547.71,308.86 L548.05,308.97 L548.39,309.07 L548.73,309.16 L549.07,309.24 L549.41,309.31 L549.75,309.37 L550.09,309.42 L550.43,309.46 L550.77,309.49 L551.11,309.51 L551.45,309.51 L551.79,309.51 L552.14,309.49 L552.48,309.47 L552.82,309.42 L553.16,309.37 L553.50,309.31 L553.84,309.23 L554.18,309.13 L554.52,309.03 L554.86,308.91 L555.20,308.78 L555.54,308.63 L555.88,308.48 L556.22,308.32 L556.56,308.16 L556.90,308.00 L557.39,309.75 L557.88,311.48 L558.37,313.18 L558.86,314.85 L559.35,316.49 L559.84,318.11 L560.33,319.71 L560.82,321.27 L561.31,322.81 L561.80,324.33 L562.29,325.81 L562.78,327.28 L563.27,328.71 L563.76,330.12 L564.25,331.51 L564.74,332.86 L565.23,334.20 L565.72,335.50 L566.21,336.79 L566.70,338.04 L567.19,339.27 L567.68,340.48 L568.17,341.66 L568.66,342.82 L569.15,343.95 L569.64,345.05 L570.13,346.14 L570.62,347.19 L571.11,348.22 L571.60,349.23 L572.09,350.21 L572.58,351.17 L573.07,352.11 L573.56,353.02 L574.05,353.91 L574.54,354.77 L575.03,355.61 L575.52,356.42 L576.01,357.21 L576.49,357.98 L576.98,358.73 L577.47,359.45 L577.96,360.15 L578.45,360.83 L578.94,361.48 L579.43,362.11 L579.92,362.72 L580.41,363.30 L580.90,363.87 L581.39,364.41 L581.88,364.93 L582.37,365.43 L582.86,365.90 L583.35,366.36 L583.84,366.79 L584.33,367.20 L584.82,367.59 L585.31,367.96 L585.80,368.31 L586.29,368.64 L586.78,368.95 L587.27,369.24 L587.76,369.51 L588.25,369.76 L588.74,369.99 L589.23,370.20 L589.72,370.40 L590.21,370.57 L590.70,370.73 L591.19,370.87 L591.68,370.99 L592.17,371.09 L592.66,371.18 L593.15,371.25 L593.64,371.31 L594.13,371.35 L594.62,371.38 L595.11,371.40 L595.60,371.40 L596.09,371.40 L596.58,371.38 L597.07,371.35 L597.56,371.31 L598.05,371.25 L598.54,371.18 L599.03,371.09 L599.52,370.99 L600.01,370.87 L600.50,370.73 L600.99,370.57 L601.48,370.40 L601.97,370.20 L602.46,369.99 L602.95,369.76 L603.44,369.51 L603.93,369.24 L604.42,368.95 L604.91,368.64 L605.40,368.31 L605.89,367.96 L606.38,367.59 L606.87,367.20 L607.36,366.79 L607.85,366.36 L608.34,365.90 L608.83,365.43 L609.32,364.93 L609.81,364.41 L610.30,363.87 L610.79,363.30 L611.28,362.72 L611.77,362.11 L612.26,361.48 L612.75,360.83 L613.24,360.15 L613.73,359.45 L614.22,358.73 L614.71,357.98 L615.19,357.21 L615.68,356.42 L616.17,355.61 L616.66,354.77 L617.15,353.91 L617.64,353.02 L618.13,352.11 L618.62,351.17 L619.11,350.21 L619.60,349.23 L620.09,348.22 L620.58,347.19 L621.07,346.14 L621.56,345.05 L622.05,343.95 L622.54,342.82 L623.03,341.66 L623.52,340.48 L624.01,339.27 L624.50,338.04 L624.99,336.79 L625.48,335.50 L625.97,334.20 L626.46,332.86 L626.95,331.51 L627.44,330.12 L627.93,328.71 L628.42,327.28 L628.91,325.81 L629.40,324.33 L629.89,322.81 L630.38,321.27 L630.87,319.71 L631.36,318.11 L631.85,316.49 L632.34,314.85 L632.83,313.18 L633.32,311.48 L633.81,309.75 L634.30,308.00 L634.64,308.16 L634.98,308.32 L635.32,308.48 L635.66,308.63 L636.00,308.78 L636.34,308.91 L636.68,309.03 L637.02,309.13 L637.36,309.23 L637.70,309.31 L638.04,309.37 L638.38,309.42 L638.72,309.47 L639.06,309.49 L639.41,309.51 L639.75,309.51 L640.09,309.51 L640.43,309.49 L640.77,309.46 L641.11,309.42 L641.45,309.37 L641.79,309.31 L642.13,309.24 L642.47,309.16 L642.81,309.07 L643.15,308.97 L643.49,308.86 L643.83,308.74 L644.17,308.62 L644.51,308.48 L644.85,308.33 L645.19,308.18 L645.53,308.01 L645.87,307.84 L646.21,307.65 L646.55,307.46 L646.89,307.25 L647.23,307.04 L647.57,306.82 L647.91,306.59 L648.25,306.34 L648.59,306.09 L648.93,305.83 L649.27,305.56 L649.62,305.28 L649.96,304.99 L650.30,304.69 L650.64,304.39 L650.98,304.07 L651.32,303.75 L651.66,303.42 L652.00,303.09 L652.34,302.75 L652.68,302.40 L653.02,302.05 L653.36,301.69 L653.70,301.33 L654.04,300.96 L654.38,300.59 L654.72,300.22 L655.06,299.84 L655.40,299.46 L655.74,299.08 L656.08,298.70 L656.42,298.31 L656.76,297.92 L657.10,297.53 L657.44,297.13 L657.78,296.72 L658.12,296.31 L658.46,295.89 L658.80,295.46 L659.14,295.02 L659.48,294.57 L659.83,294.11 L660.17,293.63 L660.51,293.14 L660.85,292.64 L661.19,292.12 L661.53,291.58 L661.87,291.02 L662.21,290.45 L662.55,289.86 L662.89,289.26 L663.23,288.64 L663.57,288.00 L663.91,287.35 L664.25,286.69 L664.59,286.02 L664.93,285.34 L665.27,284.65 L665.61,283.95 L665.95,283.24 L666.29,282.52 L666.63,281.80 L666.97,281.06 L667.31,280.31 L667.65,279.55 L667.99,278.78 L668.33,278.00 L668.67,277.21 L669.01,276.41 L669.35,275.59 L669.69,274.77 L670.04,273.93 L670.38,273.08 L670.72,272.22 L671.06,271.35 L671.40,270.48 L671.74,269.59 L672.08,268.70 L672.42,267.80 L672.76,266.90 L673.10,265.99 L673.44,265.07 L673.78,264.16 L674.12,263.24 L674.46,262.32 L674.80,261.40" fill="none" stroke="#c4372f" stroke-width="1.3" stroke-linejoin="round" stroke-linecap="butt"/>
<rect x="508.40" y="206.00" width="174.40" height="172.20" fill="none" stroke="#3a3a3a" stroke-width="1.4"/>
<path d="M504.90,205.70 H508.40" stroke="#3a3a3a" stroke-width="1.15"/>
<path d="M504.90,229.40 H508.40" stroke="#3a3a3a" stroke-width="1.15"/>
<path d="M504.90,253.10 H508.40" stroke="#3a3a3a" stroke-width="1.15"/>
<path d="M504.90,276.80 H508.40" stroke="#3a3a3a" stroke-width="1.15"/>
<path d="M504.90,308.23 H508.40" stroke="#3a3a3a" stroke-width="1.15"/>
<path d="M504.90,324.20 H508.40" stroke="#3a3a3a" stroke-width="1.15"/>
<path d="M504.90,347.90 H508.40" stroke="#3a3a3a" stroke-width="1.15"/>
<path d="M504.90,371.60 H508.40" stroke="#3a3a3a" stroke-width="1.15"/>
<path d="M504.90,300.50 H508.40" stroke="#3a3a3a" stroke-width="1.15"/>
<path d="M556.04,378.20 V381.70" stroke="#3a3a3a" stroke-width="1.15"/>
<path d="M595.60,378.20 V381.70" stroke="#3a3a3a" stroke-width="1.15"/>
<path d="M635.16,378.20 V381.70" stroke="#3a3a3a" stroke-width="1.15"/>
<g style="filter:grayscale(1)">
<text x="42.00" y="9.10" font-size="10.5" text-anchor="end" textLength="24.17" lengthAdjust="spacingAndGlyphs">5000</text>
<text x="42.00" y="41.74" font-size="10.5" text-anchor="end" textLength="24.17" lengthAdjust="spacingAndGlyphs">4000</text>
<text x="42.00" y="74.38" font-size="10.5" text-anchor="end" textLength="24.17" lengthAdjust="spacingAndGlyphs">3000</text>
<text x="42.00" y="107.02" font-size="10.5" text-anchor="end" textLength="24.17" lengthAdjust="spacingAndGlyphs">2000</text>
<text x="42.00" y="139.66" font-size="10.5" text-anchor="end" textLength="24.17" lengthAdjust="spacingAndGlyphs">1000</text>
<text x="42.00" y="161.00" font-size="10.5" text-anchor="end" textLength="18.13" lengthAdjust="spacingAndGlyphs">339</text>
<text x="42.00" y="172.30" font-size="10.5" text-anchor="end" textLength="6.04" lengthAdjust="spacingAndGlyphs">0</text>
<text x="90.23" y="190.40" font-size="10.5" text-anchor="start">C</text>
<text x="97.82" y="191.90" font-size="8.3" font-style="italic" textLength="3.83" lengthAdjust="spacingAndGlyphs">s</text>
<text x="127.19" y="190.40" font-size="10.5" text-anchor="start">C</text>
<text x="134.78" y="191.90" font-size="8.3" textLength="4.68" lengthAdjust="spacingAndGlyphs">2</text>
<text x="139.46" y="191.90" font-size="8.3" font-style="italic" textLength="4.35" lengthAdjust="spacingAndGlyphs">v</text>
<text x="169.35" y="190.40" font-size="10.5" text-anchor="start">C</text>
<text x="176.94" y="191.90" font-size="8.3" font-style="italic" textLength="3.83" lengthAdjust="spacingAndGlyphs">s</text>
<text x="118.00" y="21.70" font-size="12">C</text>
<text x="126.90" y="23.60" font-size="9" textLength="10.6" lengthAdjust="spacingAndGlyphs">60</text>
<text x="137.90" y="21.70" font-size="12">H</text>
<text x="146.80" y="23.60" font-size="9" textLength="5.3" lengthAdjust="spacingAndGlyphs">2</text>
<g transform="translate(11.30,127.50) rotate(-90)"><text x="-0.50" y="0.00" font-size="10.5" textLength="34.9" lengthAdjust="spacingAndGlyphs">Energy</text><text x="39.90" y="0.40" font-size="11.9">(</text><text x="45.10" y="0.00" font-size="10.5" textLength="5.7" lengthAdjust="spacingAndGlyphs">c</text><text x="51.00" y="0.00" font-size="10.5" textLength="9.6" lengthAdjust="spacingAndGlyphs">m</text><text x="60.50" y="-4.50" font-size="8.4" textLength="5.8" lengthAdjust="spacingAndGlyphs">−</text><text x="67.20" y="-3.20" font-size="8.8" textLength="5.3" lengthAdjust="spacingAndGlyphs" font-family="Liberation Mono">1</text><text x="73.70" y="0.40" font-size="11.9">)</text></g>
<text x="272.10" y="24.95" font-size="10.5" text-anchor="end" textLength="24.17" lengthAdjust="spacingAndGlyphs">5000</text>
<text x="272.10" y="54.21" font-size="10.5" text-anchor="end" textLength="24.17" lengthAdjust="spacingAndGlyphs">4000</text>
<text x="272.10" y="83.47" font-size="10.5" text-anchor="end" textLength="24.17" lengthAdjust="spacingAndGlyphs">3000</text>
<text x="272.10" y="112.73" font-size="10.5" text-anchor="end" textLength="24.17" lengthAdjust="spacingAndGlyphs">2000</text>
<text x="272.10" y="141.99" font-size="10.5" text-anchor="end" textLength="24.17" lengthAdjust="spacingAndGlyphs">1000</text>
<text x="272.10" y="160.19" font-size="10.5" text-anchor="end" textLength="18.13" lengthAdjust="spacingAndGlyphs">378</text>
<text x="272.10" y="171.25" font-size="10.5" text-anchor="end" textLength="6.04" lengthAdjust="spacingAndGlyphs">0</text>
<text x="317.53" y="189.50" font-size="10.5" text-anchor="start">C</text>
<text x="325.11" y="191.00" font-size="8.3" textLength="4.68" lengthAdjust="spacingAndGlyphs">2</text>
<text x="329.79" y="191.00" font-size="8.3" font-style="italic" textLength="4.66" lengthAdjust="spacingAndGlyphs">h</text>
<text x="357.09" y="189.50" font-size="10.5" text-anchor="start">D</text>
<text x="364.67" y="191.00" font-size="8.3" textLength="4.68" lengthAdjust="spacingAndGlyphs">2</text>
<text x="369.35" y="191.00" font-size="8.3" font-style="italic" textLength="4.66" lengthAdjust="spacingAndGlyphs">h</text>
<text x="396.65" y="189.50" font-size="10.5" text-anchor="start">C</text>
<text x="404.23" y="191.00" font-size="8.3" textLength="4.68" lengthAdjust="spacingAndGlyphs">2</text>
<text x="408.91" y="191.00" font-size="8.3" font-style="italic" textLength="4.66" lengthAdjust="spacingAndGlyphs">h</text>
<text x="365.45" y="19.80" font-size="12.1" text-anchor="middle"  textLength="42.5" lengthAdjust="spacingAndGlyphs">Trans-1</text>
<g transform="translate(241.40,126.55) rotate(-90)"><text x="-0.50" y="0.00" font-size="10.5" textLength="34.9" lengthAdjust="spacingAndGlyphs">Energy</text><text x="39.90" y="0.40" font-size="11.9">(</text><text x="45.10" y="0.00" font-size="10.5" textLength="5.7" lengthAdjust="spacingAndGlyphs">c</text><text x="51.00" y="0.00" font-size="10.5" textLength="9.6" lengthAdjust="spacingAndGlyphs">m</text><text x="60.50" y="-4.50" font-size="8.4" textLength="5.8" lengthAdjust="spacingAndGlyphs">−</text><text x="67.20" y="-3.20" font-size="8.8" textLength="5.3" lengthAdjust="spacingAndGlyphs" font-family="Liberation Mono">1</text><text x="73.70" y="0.40" font-size="11.9">)</text></g>
<text x="502.00" y="14.35" font-size="10.5" text-anchor="end" textLength="24.17" lengthAdjust="spacingAndGlyphs">5000</text>
<text x="502.00" y="45.73" font-size="10.5" text-anchor="end" textLength="24.17" lengthAdjust="spacingAndGlyphs">4000</text>
<text x="502.00" y="77.11" font-size="10.5" text-anchor="end" textLength="24.17" lengthAdjust="spacingAndGlyphs">3000</text>
<text x="502.00" y="108.49" font-size="10.5" text-anchor="end" textLength="24.17" lengthAdjust="spacingAndGlyphs">2000</text>
<text x="502.00" y="139.87" font-size="10.5" text-anchor="end" textLength="24.17" lengthAdjust="spacingAndGlyphs">1000</text>
<text x="502.00" y="160.14" font-size="10.5" text-anchor="end" textLength="18.13" lengthAdjust="spacingAndGlyphs">354</text>
<text x="502.00" y="171.25" font-size="10.5" text-anchor="end" textLength="6.04" lengthAdjust="spacingAndGlyphs">0</text>
<text x="549.91" y="189.50" font-size="10.5" text-anchor="start">C</text>
<text x="557.59" y="191.00" font-size="9.4" font-family="Liberation Mono" textLength="4.68" lengthAdjust="spacingAndGlyphs">1</text>
<text x="589.47" y="189.50" font-size="10.5" text-anchor="start">C</text>
<text x="597.05" y="191.00" font-size="8.3" textLength="4.68" lengthAdjust="spacingAndGlyphs">2</text>
<text x="629.03" y="189.50" font-size="10.5" text-anchor="start">C</text>
<text x="636.71" y="191.00" font-size="9.4" font-family="Liberation Mono" textLength="4.68" lengthAdjust="spacingAndGlyphs">1</text>
<text x="595.50" y="19.80" font-size="12.1" text-anchor="middle"  textLength="42.5" lengthAdjust="spacingAndGlyphs">Trans-2</text>
<g transform="translate(471.30,126.55) rotate(-90)"><text x="-0.50" y="0.00" font-size="10.5" textLength="34.9" lengthAdjust="spacingAndGlyphs">Energy</text><text x="39.90" y="0.40" font-size="11.9">(</text><text x="45.10" y="0.00" font-size="10.5" textLength="5.7" lengthAdjust="spacingAndGlyphs">c</text><text x="51.00" y="0.00" font-size="10.5" textLength="9.6" lengthAdjust="spacingAndGlyphs">m</text><text x="60.50" y="-4.50" font-size="8.4" textLength="5.8" lengthAdjust="spacingAndGlyphs">−</text><text x="67.20" y="-3.20" font-size="8.8" textLength="5.3" lengthAdjust="spacingAndGlyphs" font-family="Liberation Mono">1</text><text x="73.70" y="0.40" font-size="11.9">)</text></g>
<text x="42.10" y="240.58" font-size="10.5" text-anchor="end" textLength="24.17" lengthAdjust="spacingAndGlyphs">8000</text>
<text x="42.10" y="273.66" font-size="10.5" text-anchor="end" textLength="24.17" lengthAdjust="spacingAndGlyphs">6000</text>
<text x="42.10" y="306.74" font-size="10.5" text-anchor="end" textLength="24.17" lengthAdjust="spacingAndGlyphs">4000</text>
<text x="42.10" y="331.96" font-size="10.5" text-anchor="end" textLength="24.17" lengthAdjust="spacingAndGlyphs">2475</text>
<text x="42.10" y="372.90" font-size="10.5" text-anchor="end" textLength="6.04" lengthAdjust="spacingAndGlyphs">0</text>
<text x="89.81" y="391.50" font-size="10.5" text-anchor="start">C</text>
<text x="97.49" y="393.00" font-size="9.4" font-family="Liberation Mono" textLength="4.68" lengthAdjust="spacingAndGlyphs">1</text>
<text x="129.79" y="391.50" font-size="10.5" text-anchor="start">C</text>
<text x="137.38" y="393.00" font-size="8.3" font-style="italic" textLength="3.83" lengthAdjust="spacingAndGlyphs">s</text>
<text x="168.93" y="391.50" font-size="10.5" text-anchor="start">C</text>
<text x="176.61" y="393.00" font-size="9.4" font-family="Liberation Mono" textLength="4.68" lengthAdjust="spacingAndGlyphs">1</text>
<text x="135.40" y="221.50" font-size="12.1" text-anchor="middle"  textLength="55.3" lengthAdjust="spacingAndGlyphs">Equatorial</text>
<g transform="translate(11.40,328.40) rotate(-90)"><text x="-0.50" y="0.00" font-size="10.5" textLength="34.9" lengthAdjust="spacingAndGlyphs">Energy</text><text x="39.90" y="0.40" font-size="11.9">(</text><text x="45.10" y="0.00" font-size="10.5" textLength="5.7" lengthAdjust="spacingAndGlyphs">c</text><text x="51.00" y="0.00" font-size="10.5" textLength="9.6" lengthAdjust="spacingAndGlyphs">m</text><text x="60.50" y="-4.50" font-size="8.4" textLength="5.8" lengthAdjust="spacingAndGlyphs">−</text><text x="67.20" y="-3.20" font-size="8.8" textLength="5.3" lengthAdjust="spacingAndGlyphs" font-family="Liberation Mono">1</text><text x="73.70" y="0.40" font-size="11.9">)</text></g>
<text x="272.00" y="211.15" font-size="10.5" text-anchor="end" textLength="24.17" lengthAdjust="spacingAndGlyphs">8000</text>
<text x="272.00" y="251.75" font-size="10.5" text-anchor="end" textLength="24.17" lengthAdjust="spacingAndGlyphs">6000</text>
<text x="272.00" y="292.35" font-size="10.5" text-anchor="end" textLength="24.17" lengthAdjust="spacingAndGlyphs">4000</text>
<text x="272.00" y="330.60" font-size="10.5" text-anchor="end" textLength="24.17" lengthAdjust="spacingAndGlyphs">2099</text>
<text x="272.00" y="373.55" font-size="10.5" text-anchor="end" textLength="6.04" lengthAdjust="spacingAndGlyphs">0</text>
<text x="319.86" y="391.50" font-size="10.5" text-anchor="start">C</text>
<text x="327.54" y="393.00" font-size="9.4" font-family="Liberation Mono" textLength="4.68" lengthAdjust="spacingAndGlyphs">1</text>
<text x="359.42" y="391.50" font-size="10.5" text-anchor="start">C</text>
<text x="367.00" y="393.00" font-size="8.3" textLength="4.68" lengthAdjust="spacingAndGlyphs">2</text>
<text x="398.98" y="391.50" font-size="10.5" text-anchor="start">C</text>
<text x="406.66" y="393.00" font-size="9.4" font-family="Liberation Mono" textLength="4.68" lengthAdjust="spacingAndGlyphs">1</text>
<text x="365.40" y="221.90" font-size="12.1" text-anchor="middle"  textLength="42.5" lengthAdjust="spacingAndGlyphs">Trans-3</text>
<g transform="translate(241.30,328.60) rotate(-90)"><text x="-0.50" y="0.00" font-size="10.5" textLength="34.9" lengthAdjust="spacingAndGlyphs">Energy</text><text x="39.90" y="0.40" font-size="11.9">(</text><text x="45.10" y="0.00" font-size="10.5" textLength="5.7" lengthAdjust="spacingAndGlyphs">c</text><text x="51.00" y="0.00" font-size="10.5" textLength="9.6" lengthAdjust="spacingAndGlyphs">m</text><text x="60.50" y="-4.50" font-size="8.4" textLength="5.8" lengthAdjust="spacingAndGlyphs">−</text><text x="67.20" y="-3.20" font-size="8.8" textLength="5.3" lengthAdjust="spacingAndGlyphs" font-family="Liberation Mono">1</text><text x="73.70" y="0.40" font-size="11.9">)</text></g>
<text x="502.00" y="209.70" font-size="10.5" text-anchor="end" textLength="24.17" lengthAdjust="spacingAndGlyphs">3500</text>
<text x="502.00" y="233.40" font-size="10.5" text-anchor="end" textLength="24.17" lengthAdjust="spacingAndGlyphs">3000</text>
<text x="502.00" y="257.10" font-size="10.5" text-anchor="end" textLength="24.17" lengthAdjust="spacingAndGlyphs">2500</text>
<text x="502.00" y="280.80" font-size="10.5" text-anchor="end" textLength="24.17" lengthAdjust="spacingAndGlyphs">2000</text>
<text x="502.00" y="312.23" font-size="10.5" text-anchor="end" textLength="24.17" lengthAdjust="spacingAndGlyphs">1337</text>
<text x="502.00" y="328.20" font-size="10.5" text-anchor="end" textLength="24.17" lengthAdjust="spacingAndGlyphs">1000</text>
<text x="502.00" y="351.90" font-size="10.5" text-anchor="end" textLength="18.13" lengthAdjust="spacingAndGlyphs">500</text>
<text x="502.00" y="375.60" font-size="10.5" text-anchor="end" textLength="6.04" lengthAdjust="spacingAndGlyphs">0</text>
<text x="549.91" y="392.90" font-size="10.5" text-anchor="start">C</text>
<text x="557.59" y="394.40" font-size="9.4" font-family="Liberation Mono" textLength="4.68" lengthAdjust="spacingAndGlyphs">1</text>
<text x="589.89" y="392.90" font-size="10.5" text-anchor="start">C</text>
<text x="597.48" y="394.40" font-size="8.3" font-style="italic" textLength="3.83" lengthAdjust="spacingAndGlyphs">s</text>
<text x="629.03" y="392.90" font-size="10.5" text-anchor="start">C</text>
<text x="636.71" y="394.40" font-size="9.4" font-family="Liberation Mono" textLength="4.68" lengthAdjust="spacingAndGlyphs">1</text>
<text x="595.50" y="223.50" font-size="12.1" text-anchor="middle"  textLength="42.5" lengthAdjust="spacingAndGlyphs">Trans-4</text>
<g transform="translate(472.10,330.10) rotate(-90)"><text x="-0.50" y="0.00" font-size="10.5" textLength="34.9" lengthAdjust="spacingAndGlyphs">Energy</text><text x="39.90" y="0.40" font-size="11.9">(</text><text x="45.10" y="0.00" font-size="10.5" textLength="5.7" lengthAdjust="spacingAndGlyphs">c</text><text x="51.00" y="0.00" font-size="10.5" textLength="9.6" lengthAdjust="spacingAndGlyphs">m</text><text x="60.50" y="-4.50" font-size="8.4" textLength="5.8" lengthAdjust="spacingAndGlyphs">−</text><text x="67.20" y="-3.20" font-size="8.8" textLength="5.3" lengthAdjust="spacingAndGlyphs" font-family="Liberation Mono">1</text><text x="73.70" y="0.40" font-size="11.9">)</text></g>
</g>
</svg>
</body></html>
